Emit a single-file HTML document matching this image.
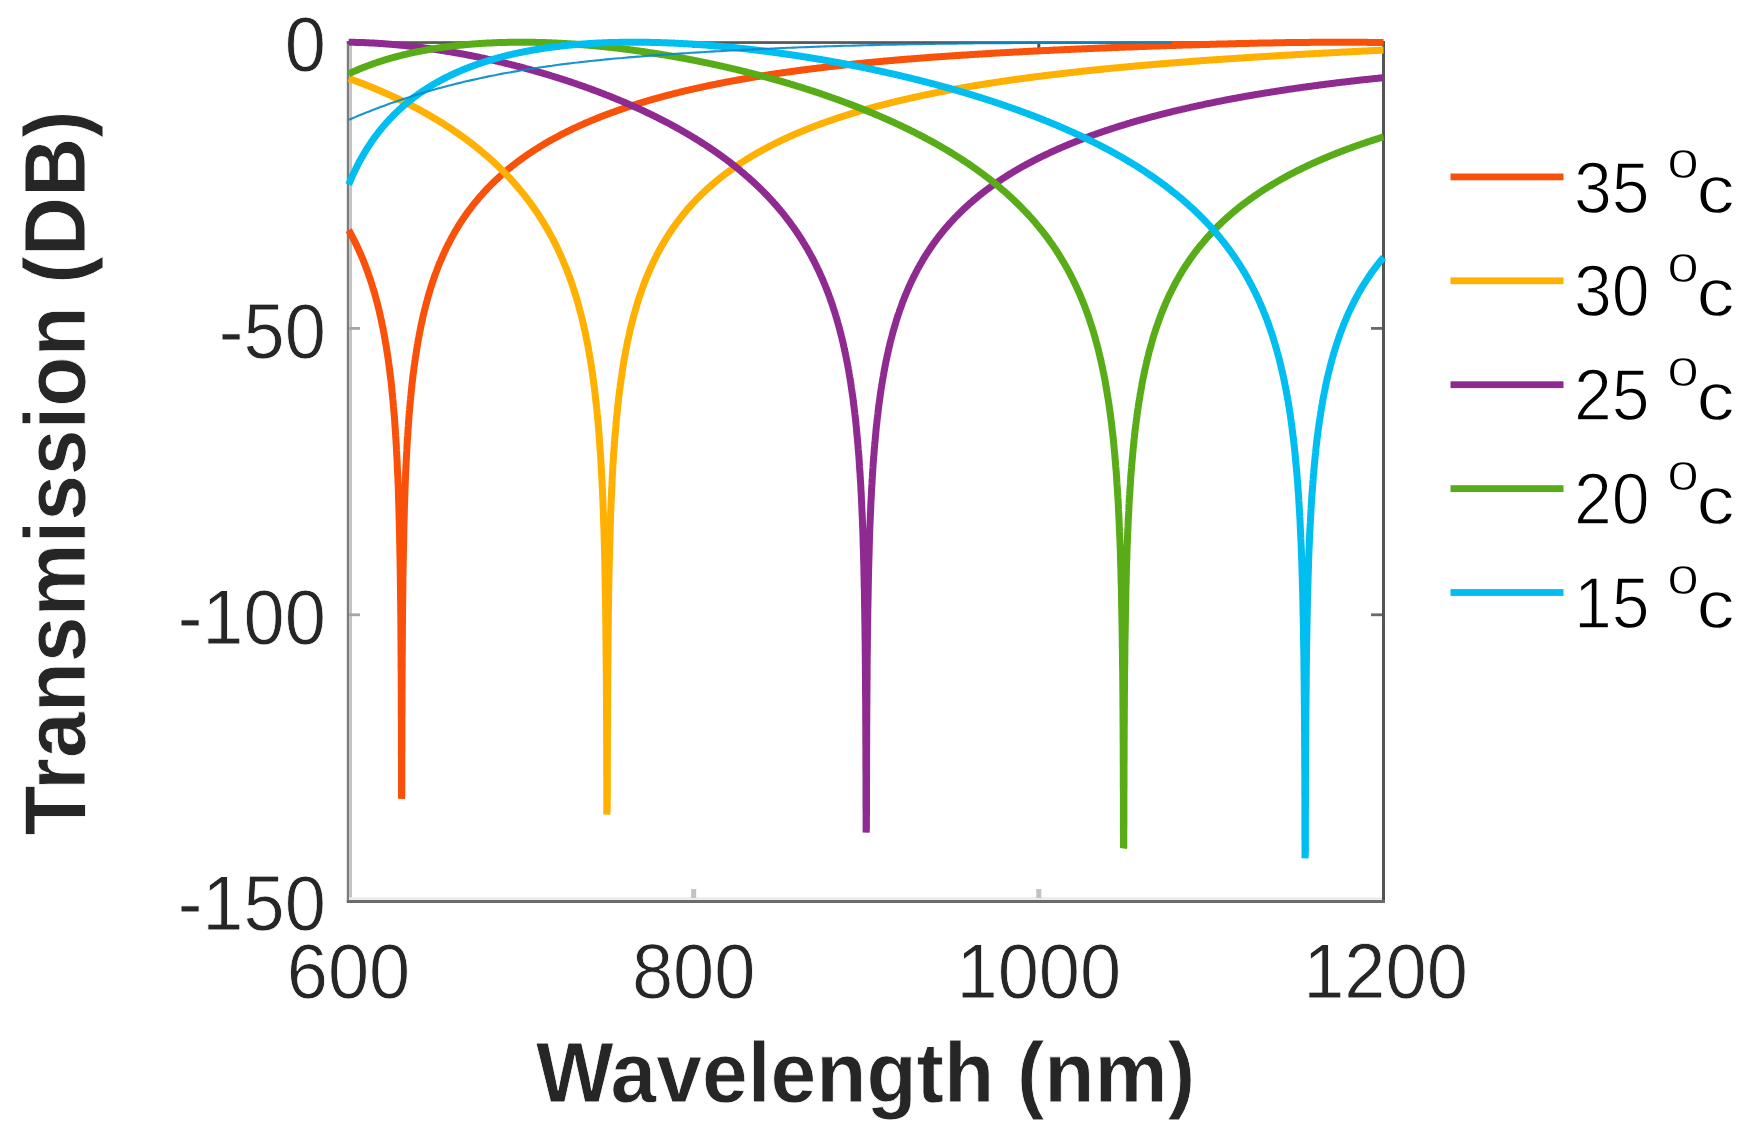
<!DOCTYPE html>
<html><head><meta charset="utf-8"><style>
html,body{margin:0;padding:0;background:#fff;overflow:hidden;}
svg{display:block;}
text{font-family:"Liberation Sans",Arial,Helvetica,sans-serif;fill:#262626;stroke:#fff;stroke-width:0.8px;}
.lg text{fill:#000;stroke-width:1.3px;}
</style></head><body>
<svg width="1748" height="1139" viewBox="0 0 1748 1139">
<rect width="1748" height="1139" fill="#fff"/>
<rect x="346.8" y="41.2" width="2.4" height="861" fill="#7c7c7c"/><rect x="349.2" y="43.5" width="2.8" height="855" fill="#c3c3c3"/><rect x="1382" y="41.2" width="3" height="861" fill="#555"/><rect x="349" y="897.3" width="1033" height="2.7" fill="#ececec"/><rect x="346.8" y="900" width="1038.2" height="3" fill="#6c6c6c"/><rect x="346.8" y="41.2" width="1038.2" height="2.7" fill="#555"/><rect x="349" y="327.0" width="11" height="2.8" fill="#a5a5a5"/><rect x="1371" y="327.0" width="11" height="2.8" fill="#6a6a6a"/><rect x="349" y="613.4" width="11" height="2.8" fill="#a5a5a5"/><rect x="1371" y="613.4" width="11" height="2.8" fill="#6a6a6a"/><rect x="691.2" y="889" width="5" height="9" fill="#c2c2c2"/><rect x="692.2" y="43" width="3" height="5" fill="#555"/><rect x="1036.3" y="889" width="5" height="9" fill="#c2c2c2"/><rect x="1037.3" y="43" width="3" height="5" fill="#555"/>
<path d="M348.7 230.1 L349.6 231.6 L350.4 233.2 L350.8 233.9 L351.3 234.8 L352.1 236.4 L353.0 238.1 L353.5 239.1 L353.9 239.7 L354.7 241.5 L355.6 243.2 L356.1 244.3 L356.5 245.0 L357.3 246.8 L358.2 248.7 L358.5 249.4 L359.0 250.6 L359.9 252.5 L360.8 254.5 L361.6 256.5 L362.5 258.5 L363.0 259.7 L363.4 260.6 L364.2 262.8 L365.1 264.9 L365.9 267.2 L366.8 269.5 L367.0 270.1 L367.7 271.9 L368.5 274.3 L368.8 275.2 L369.4 276.8 L370.3 279.4 L370.6 280.4 L371.1 282.0 L372.0 284.7 L372.2 285.6 L372.8 287.5 L373.7 290.4 L374.6 293.3 L375.3 295.9 L375.4 296.4 L376.3 299.6 L376.7 301.1 L377.2 302.8 L378.0 306.2 L378.9 309.7 L379.3 311.4 L379.7 313.4 L380.5 316.6 L380.6 317.2 L381.5 321.1 L381.6 321.7 L382.3 325.2 L382.7 326.9 L383.2 329.5 L383.7 332.1 L384.1 334.1 L384.6 337.2 L384.9 338.8 L385.5 342.4 L385.8 343.8 L386.4 347.5 L386.6 349.1 L387.2 352.7 L387.5 354.6 L388.0 357.9 L388.4 360.6 L388.7 363.0 L389.2 366.9 L389.4 368.2 L390.0 373.3 L390.7 378.5 L391.0 381.0 L391.3 383.7 L391.8 388.8 L392.3 394.0 L392.7 397.6 L392.8 399.1 L393.3 404.3 L393.5 407.1 L393.7 409.4 L394.2 414.6 L394.4 417.7 L394.6 419.8 L394.9 424.9 L395.3 429.7 L395.6 435.2 L396.0 440.4 L396.1 443.3 L396.3 445.5 L396.5 450.7 L396.8 455.8 L397.0 459.3 L397.1 461.0 L397.3 466.1 L397.5 471.3 L397.8 476.4 L397.9 478.6 L398.0 481.6 L398.2 486.7 L398.4 491.9 L398.5 497.0 L398.7 502.2 L398.7 502.9 L398.9 507.4 L399.0 512.5 L399.1 517.7 L399.3 522.8 L399.4 528.0 L399.5 533.1 L399.6 535.7 L399.6 538.3 L399.7 543.4 L399.8 548.6 L399.9 553.7 L400.0 558.8 L400.1 564.0 L400.2 569.1 L400.3 574.3 L400.3 579.4 L400.4 584.6 L400.4 586.4 L400.5 589.7 L400.5 594.9 L400.6 600.0 L400.7 605.2 L400.7 610.3 L400.8 615.5 L400.8 620.6 L400.9 625.8 L400.9 630.9 L400.9 636.1 L401.0 641.2 L401.0 646.4 L401.0 651.5 L401.1 656.7 L401.1 661.8 L401.1 667.0 L401.2 672.1 L401.2 677.3 L401.2 682.4 L401.2 687.6 L401.3 692.7 L401.3 697.9 L401.3 703.0 L401.3 704.3 L401.3 708.1 L401.3 713.3 L401.4 718.4 L401.4 723.6 L401.4 728.7 L401.4 733.9 L401.4 739.0 L401.4 744.2 L401.4 749.3 L401.4 754.5 L401.5 759.6 L401.5 764.8 L401.5 769.9 L401.5 775.1 L401.5 780.2 L401.5 785.4 L401.5 790.5 L401.5 795.7 L401.5 798.7 L401.8 795.7 L401.8 790.5 L401.8 785.4 L401.8 780.2 L401.8 775.1 L401.8 769.9 L401.8 764.8 L401.8 759.6 L401.8 754.5 L401.9 749.3 L401.9 744.2 L401.9 739.0 L401.9 733.9 L401.9 728.7 L401.9 723.6 L401.9 718.5 L402.0 713.3 L402.0 708.2 L402.0 703.0 L402.0 697.9 L402.0 692.7 L402.1 687.6 L402.1 682.4 L402.1 677.3 L402.1 672.1 L402.2 667.0 L402.2 666.1 L402.2 661.8 L402.2 656.7 L402.3 651.5 L402.3 646.4 L402.3 641.3 L402.4 636.1 L402.4 631.0 L402.4 625.8 L402.5 620.7 L402.5 615.5 L402.6 610.4 L402.6 605.2 L402.7 600.1 L402.8 594.9 L402.8 589.8 L402.9 584.6 L402.9 579.5 L403.0 574.4 L403.1 569.2 L403.2 564.1 L403.3 558.9 L403.4 553.8 L403.5 548.6 L403.6 543.5 L403.7 538.3 L403.8 533.2 L403.9 528.2 L404.0 522.9 L404.2 517.8 L404.3 512.6 L404.4 507.5 L404.6 502.3 L404.8 497.6 L404.9 492.0 L405.1 486.9 L405.3 481.8 L405.5 476.6 L405.6 474.6 L405.7 471.5 L406.0 466.3 L406.2 461.2 L406.5 456.1 L406.8 450.9 L407.0 445.8 L407.3 440.7 L407.7 435.5 L408.0 430.4 L408.2 427.4 L408.4 425.2 L408.7 420.1 L409.1 415.8 L409.1 414.9 L409.6 409.8 L409.9 405.5 L410.0 404.7 L410.5 399.5 L410.8 396.2 L411.0 394.4 L411.5 389.3 L411.7 387.7 L412.0 384.1 L412.5 380.0 L412.6 379.0 L413.2 373.9 L413.4 372.8 L413.9 368.7 L414.2 366.2 L414.6 363.6 L415.1 360.0 L415.3 358.5 L416.0 354.1 L416.1 353.4 L416.8 348.7 L417.7 343.5 L418.5 338.6 L418.7 338.0 L419.4 333.9 L419.6 332.9 L420.3 329.5 L420.6 327.8 L421.1 325.3 L421.7 322.6 L422.0 321.2 L422.8 317.5 L423.7 313.6 L424.0 312.4 L424.6 310.0 L425.3 307.3 L425.4 306.6 L426.3 303.3 L426.6 302.2 L427.2 300.1 L428.0 297.1 L428.9 294.0 L429.5 292.0 L429.8 291.1 L430.6 288.3 L431.0 286.9 L431.5 285.5 L432.3 282.9 L432.7 281.8 L433.2 280.3 L434.1 277.8 L434.4 276.7 L434.9 275.3 L435.8 273.0 L436.3 271.6 L436.7 270.7 L437.5 268.4 L438.2 266.6 L439.2 264.0 L440.1 261.9 L440.3 261.5 L441.0 259.9 L441.8 257.9 L442.5 256.4 L442.7 255.9 L443.6 254.0 L444.4 252.1 L444.8 251.3 L445.3 250.3 L446.1 248.4 L447.0 246.7 L447.9 244.9 L448.7 243.2 L449.6 241.6 L450.5 239.9 L451.3 238.3 L452.2 236.7 L452.5 236.2 L453.0 235.2 L453.9 233.6 L454.8 232.1 L455.3 231.2 L455.6 230.6 L456.5 229.2 L457.4 227.7 L458.2 226.3 L459.1 225.0 L459.9 223.6 L460.8 222.2 L461.5 221.1 L462.5 219.6 L463.4 218.3 L464.3 217.1 L464.9 216.1 L466.0 214.6 L466.8 213.4 L467.7 212.2 L468.4 211.1 L469.4 209.8 L470.3 208.7 L471.2 207.5 L472.0 206.4 L472.9 205.3 L473.7 204.2 L474.6 203.1 L475.5 202.1 L476.2 201.2 L477.2 200.0 L478.0 199.0 L478.9 197.9 L479.8 196.9 L480.4 196.3 L481.5 195.0 L482.4 194.0 L483.2 193.0 L484.1 192.1 L484.8 191.3 L485.8 190.2 L486.7 189.3 L487.5 188.4 L488.4 187.5 L489.3 186.6 L490.1 185.8 L491.0 184.9 L491.8 184.0 L492.7 183.2 L493.6 182.3 L494.4 181.5 L495.3 180.7 L496.2 179.9 L497.0 179.1 L497.9 178.3 L498.7 177.5 L499.6 176.7 L500.5 175.9 L501.3 175.1 L502.2 174.4 L503.1 173.6 L503.9 172.9 L504.8 172.1 L505.1 171.8 L505.6 171.4 L506.5 170.7 L507.4 169.9 L508.2 169.2 L509.1 168.5 L510.0 167.8 L510.8 167.1 L511.7 166.4 L512.5 165.7 L513.4 165.1 L514.3 164.4 L515.1 163.7 L516.0 163.1 L516.9 162.4 L517.7 161.7 L518.6 161.1 L519.4 160.5 L520.3 159.8 L521.2 159.2 L522.0 158.6 L522.9 158.0 L523.8 157.3 L524.6 156.7 L525.5 156.1 L526.3 155.5 L527.2 154.9 L528.1 154.3 L528.9 153.8 L529.8 153.2 L530.7 152.6 L531.5 152.0 L532.4 151.5 L533.2 150.9 L534.1 150.3 L535.0 149.8 L535.8 149.2 L536.7 148.7 L537.6 148.1 L538.4 147.6 L539.3 147.1 L540.1 146.5 L541.0 146.0 L541.9 145.5 L542.7 145.0 L543.6 144.4 L544.4 143.9 L545.3 143.4 L546.2 142.9 L547.0 142.4 L547.9 141.9 L548.8 141.4 L549.6 140.9 L550.5 140.4 L551.3 140.0 L552.2 139.5 L553.1 139.0 L553.9 138.5 L554.8 138.1 L555.7 137.6 L556.5 137.1 L557.4 136.7 L558.2 136.2 L559.1 135.7 L560.0 135.3 L560.8 134.8 L561.7 134.4 L562.6 133.9 L563.4 133.5 L564.3 133.1 L565.1 132.6 L566.0 132.2 L566.9 131.8 L567.7 131.3 L568.6 130.9 L569.5 130.5 L570.3 130.1 L571.2 129.7 L572.0 129.2 L572.9 128.8 L573.8 128.4 L574.6 128.0 L575.5 127.6 L576.4 127.2 L577.2 126.8 L578.1 126.4 L578.9 126.0 L579.8 125.6 L580.7 125.2 L581.5 124.9 L582.4 124.5 L583.3 124.1 L584.1 123.7 L585.0 123.3 L585.8 122.9 L586.7 122.6 L587.6 122.2 L588.4 121.8 L589.3 121.5 L590.2 121.1 L591.0 120.7 L591.9 120.4 L592.7 120.0 L593.6 119.7 L594.5 119.3 L595.3 119.0 L596.2 118.6 L597.1 118.3 L597.9 117.9 L598.8 117.6 L599.6 117.2 L600.5 116.9 L601.4 116.5 L602.2 116.2 L603.1 115.9 L604.0 115.5 L604.8 115.2 L605.7 114.9 L606.5 114.6 L607.4 114.2 L608.3 113.9 L609.1 113.6 L610.0 113.3 L610.8 112.9 L611.7 112.6 L612.6 112.3 L613.4 112.0 L614.3 111.7 L615.2 111.4 L616.0 111.1 L616.9 110.8 L617.7 110.5 L618.6 110.2 L619.5 109.9 L620.3 109.6 L621.2 109.3 L622.1 109.0 L622.9 108.7 L623.8 108.4 L624.6 108.1 L625.5 107.8 L626.4 107.5 L627.2 107.2 L628.1 106.9 L629.0 106.6 L629.8 106.4 L630.7 106.1 L631.5 105.8 L632.4 105.5 L633.3 105.2 L634.1 105.0 L635.0 104.7 L635.9 104.4 L636.7 104.1 L637.6 103.9 L638.4 103.6 L639.3 103.3 L640.2 103.1 L641.0 102.8 L641.9 102.5 L642.8 102.3 L643.6 102.0 L644.5 101.8 L645.3 101.5 L646.2 101.3 L647.1 101.0 L647.9 100.7 L648.8 100.5 L649.7 100.2 L650.5 100.0 L651.4 99.7 L652.2 99.5 L653.1 99.2 L654.0 99.0 L654.8 98.8 L655.7 98.5 L656.6 98.3 L657.4 98.0 L658.3 97.8 L659.1 97.6 L660.0 97.3 L660.9 97.1 L661.7 96.8 L662.6 96.6 L663.5 96.4 L664.3 96.1 L665.2 95.9 L666.0 95.7 L666.9 95.5 L667.8 95.2 L668.6 95.0 L669.5 94.8 L670.4 94.6 L671.2 94.3 L672.1 94.1 L672.9 93.9 L673.8 93.7 L674.7 93.5 L675.5 93.2 L676.4 93.0 L677.2 92.8 L678.1 92.6 L679.0 92.4 L679.8 92.2 L680.7 92.0 L681.6 91.8 L682.4 91.5 L683.3 91.3 L684.1 91.1 L685.0 90.9 L685.9 90.7 L686.7 90.5 L687.6 90.3 L688.5 90.1 L689.3 89.9 L690.2 89.7 L691.0 89.5 L691.9 89.3 L692.8 89.1 L693.6 88.9 L694.5 88.7 L695.4 88.5 L696.2 88.3 L697.1 88.1 L697.9 87.9 L698.8 87.8 L699.7 87.6 L700.5 87.4 L701.4 87.2 L702.3 87.0 L703.1 86.8 L704.0 86.6 L704.8 86.4 L705.7 86.3 L706.6 86.1 L707.4 85.9 L708.3 85.7 L709.2 85.5 L710.0 85.3 L710.9 85.2 L711.7 85.0 L712.6 84.8 L713.5 84.6 L714.3 84.5 L715.2 84.3 L716.1 84.1 L716.9 83.9 L717.8 83.8 L718.6 83.6 L719.5 83.4 L720.4 83.3 L721.2 83.1 L722.1 82.9 L723.0 82.7 L723.8 82.6 L724.7 82.4 L725.5 82.2 L726.4 82.1 L727.3 81.9 L728.1 81.8 L729.0 81.6 L729.9 81.4 L730.7 81.3 L731.6 81.1 L732.4 80.9 L733.3 80.8 L734.2 80.6 L735.0 80.5 L735.9 80.3 L736.8 80.2 L737.6 80.0 L738.5 79.8 L739.3 79.7 L740.2 79.5 L741.1 79.4 L741.9 79.2 L742.8 79.1 L743.6 78.9 L744.5 78.8 L745.4 78.6 L746.2 78.5 L747.1 78.3 L748.0 78.2 L748.8 78.0 L749.7 77.9 L750.5 77.7 L751.4 77.6 L752.3 77.4 L753.1 77.3 L754.0 77.2 L754.9 77.0 L755.7 76.9 L756.6 76.7 L757.4 76.6 L758.3 76.5 L759.2 76.3 L760.0 76.2 L760.9 76.0 L761.8 75.9 L762.6 75.8 L763.5 75.6 L764.3 75.5 L765.2 75.4 L766.1 75.2 L766.9 75.1 L767.8 74.9 L768.7 74.8 L769.5 74.7 L770.4 74.5 L771.2 74.4 L772.1 74.3 L773.0 74.2 L773.8 74.0 L774.7 73.9 L775.6 73.8 L776.4 73.6 L777.3 73.5 L778.1 73.4 L779.0 73.3 L779.9 73.1 L780.7 73.0 L781.6 72.9 L782.5 72.8 L783.3 72.6 L784.2 72.5 L785.0 72.4 L785.9 72.3 L786.8 72.1 L787.6 72.0 L788.5 71.9 L789.4 71.8 L790.2 71.7 L791.1 71.5 L791.9 71.4 L792.8 71.3 L793.7 71.2 L794.5 71.1 L795.4 71.0 L796.3 70.8 L797.1 70.7 L798.0 70.6 L798.8 70.5 L799.7 70.4 L800.6 70.3 L801.4 70.1 L802.3 70.0 L803.1 69.9 L804.0 69.8 L804.9 69.7 L805.7 69.6 L806.6 69.5 L807.5 69.4 L808.3 69.3 L809.2 69.1 L810.0 69.0 L810.9 68.9 L811.8 68.8 L812.6 68.7 L813.5 68.6 L814.4 68.5 L815.2 68.4 L816.1 68.3 L816.9 68.2 L817.8 68.1 L818.7 68.0 L819.5 67.9 L820.4 67.8 L821.3 67.7 L822.1 67.6 L823.0 67.5 L823.8 67.3 L824.7 67.2 L825.6 67.1 L826.4 67.0 L827.3 66.9 L828.2 66.8 L829.0 66.7 L829.9 66.6 L830.7 66.5 L831.6 66.4 L832.5 66.4 L833.3 66.3 L834.2 66.2 L835.1 66.1 L835.9 66.0 L836.8 65.9 L837.6 65.8 L838.5 65.7 L839.4 65.6 L840.2 65.5 L841.1 65.4 L842.0 65.3 L842.8 65.2 L843.7 65.1 L844.5 65.0 L845.4 64.9 L846.3 64.8 L847.1 64.7 L848.0 64.7 L848.9 64.6 L849.7 64.5 L850.6 64.4 L851.4 64.3 L852.3 64.2 L853.2 64.1 L854.0 64.0 L854.9 63.9 L855.8 63.8 L856.6 63.8 L857.5 63.7 L858.3 63.6 L859.2 63.5 L860.1 63.4 L860.9 63.3 L861.8 63.2 L862.7 63.2 L863.5 63.1 L864.4 63.0 L865.2 62.9 L866.1 62.8 L867.0 62.7 L867.8 62.6 L868.7 62.6 L869.5 62.5 L870.4 62.4 L871.3 62.3 L872.1 62.2 L873.0 62.2 L873.9 62.1 L874.7 62.0 L875.6 61.9 L876.4 61.8 L877.3 61.8 L878.2 61.7 L879.0 61.6 L879.9 61.5 L880.8 61.4 L881.6 61.4 L882.5 61.3 L883.3 61.2 L884.2 61.1 L885.1 61.0 L885.9 61.0 L886.8 60.9 L887.7 60.8 L888.5 60.7 L889.4 60.7 L890.2 60.6 L891.1 60.5 L892.0 60.4 L892.8 60.4 L893.7 60.3 L894.6 60.2 L895.4 60.1 L896.3 60.1 L897.1 60.0 L898.0 59.9 L898.9 59.8 L899.7 59.8 L900.6 59.7 L901.5 59.6 L902.3 59.6 L903.2 59.5 L904.0 59.4 L904.9 59.3 L905.8 59.3 L906.6 59.2 L907.5 59.1 L908.4 59.1 L909.2 59.0 L910.1 58.9 L910.9 58.9 L911.8 58.8 L912.7 58.7 L913.5 58.7 L914.4 58.6 L915.3 58.5 L916.1 58.5 L917.0 58.4 L917.8 58.3 L918.7 58.2 L919.6 58.2 L920.4 58.1 L921.3 58.1 L922.2 58.0 L923.0 57.9 L923.9 57.9 L924.7 57.8 L925.6 57.7 L926.5 57.7 L927.3 57.6 L928.2 57.5 L929.1 57.5 L929.9 57.4 L930.8 57.3 L931.6 57.3 L932.5 57.2 L933.4 57.1 L934.2 57.1 L935.1 57.0 L935.9 57.0 L936.8 56.9 L937.7 56.8 L938.5 56.8 L939.4 56.7 L940.3 56.7 L941.1 56.6 L942.0 56.5 L942.8 56.5 L943.7 56.4 L944.6 56.4 L945.4 56.3 L946.3 56.2 L947.2 56.2 L948.0 56.1 L948.9 56.1 L949.7 56.0 L950.6 55.9 L951.5 55.9 L952.3 55.8 L953.2 55.8 L954.1 55.7 L954.9 55.6 L955.8 55.6 L956.6 55.5 L957.5 55.5 L958.4 55.4 L959.2 55.4 L960.1 55.3 L961.0 55.2 L961.8 55.2 L962.7 55.1 L963.5 55.1 L964.4 55.0 L965.3 55.0 L966.1 54.9 L967.0 54.9 L967.9 54.8 L968.7 54.8 L969.6 54.7 L970.4 54.6 L971.3 54.6 L972.2 54.5 L973.0 54.5 L973.9 54.4 L974.8 54.4 L975.6 54.3 L976.5 54.3 L977.3 54.2 L978.2 54.2 L979.1 54.1 L979.9 54.1 L980.8 54.0 L981.7 54.0 L982.5 53.9 L983.4 53.8 L984.2 53.8 L985.1 53.7 L986.0 53.7 L986.8 53.6 L987.7 53.6 L988.6 53.5 L989.4 53.5 L990.3 53.4 L991.1 53.4 L992.0 53.3 L992.9 53.3 L993.7 53.2 L994.6 53.2 L995.5 53.1 L996.3 53.1 L997.2 53.0 L998.0 53.0 L998.9 52.9 L999.8 52.9 L1000.6 52.8 L1001.5 52.8 L1002.3 52.8 L1003.2 52.7 L1004.1 52.7 L1004.9 52.6 L1005.8 52.6 L1006.7 52.5 L1007.5 52.5 L1008.4 52.4 L1009.2 52.4 L1010.1 52.3 L1011.0 52.3 L1011.8 52.2 L1012.7 52.2 L1013.6 52.1 L1014.4 52.1 L1015.3 52.0 L1016.1 52.0 L1017.0 52.0 L1017.9 51.9 L1018.7 51.9 L1019.6 51.8 L1020.5 51.8 L1021.3 51.7 L1022.2 51.7 L1023.0 51.6 L1023.9 51.6 L1024.8 51.6 L1025.6 51.5 L1026.5 51.5 L1027.4 51.4 L1028.2 51.4 L1029.1 51.3 L1029.9 51.3 L1030.8 51.2 L1031.7 51.2 L1032.5 51.2 L1033.4 51.1 L1034.3 51.1 L1035.1 51.0 L1036.0 51.0 L1036.8 50.9 L1037.7 50.9 L1038.6 50.9 L1039.4 50.8 L1040.3 50.8 L1041.2 50.7 L1042.0 50.7 L1042.9 50.6 L1043.7 50.6 L1044.6 50.6 L1045.5 50.5 L1046.3 50.5 L1047.2 50.4 L1048.1 50.4 L1048.9 50.4 L1049.8 50.3 L1050.6 50.3 L1051.5 50.2 L1052.4 50.2 L1053.2 50.2 L1054.1 50.1 L1055.0 50.1 L1055.8 50.0 L1056.7 50.0 L1057.5 49.9 L1058.4 49.9 L1059.3 49.9 L1060.1 49.8 L1061.0 49.8 L1061.8 49.8 L1062.7 49.7 L1063.6 49.7 L1064.4 49.6 L1065.3 49.6 L1066.2 49.6 L1067.0 49.5 L1067.9 49.5 L1068.7 49.4 L1069.6 49.4 L1070.5 49.4 L1071.3 49.3 L1072.2 49.3 L1073.1 49.2 L1073.9 49.2 L1074.8 49.2 L1075.6 49.1 L1076.5 49.1 L1077.4 49.1 L1078.2 49.0 L1079.1 49.0 L1080.0 48.9 L1080.8 48.9 L1081.7 48.9 L1082.5 48.8 L1083.4 48.8 L1084.3 48.8 L1085.1 48.7 L1086.0 48.7 L1086.9 48.7 L1087.7 48.6 L1088.6 48.6 L1089.4 48.5 L1090.3 48.5 L1091.2 48.5 L1092.0 48.4 L1092.9 48.4 L1093.8 48.4 L1094.6 48.3 L1095.5 48.3 L1096.3 48.3 L1097.2 48.2 L1098.1 48.2 L1098.9 48.2 L1099.8 48.1 L1100.7 48.1 L1101.5 48.0 L1102.4 48.0 L1103.2 48.0 L1104.1 47.9 L1105.0 47.9 L1105.8 47.9 L1106.7 47.8 L1107.6 47.8 L1108.4 47.8 L1109.3 47.7 L1110.1 47.7 L1111.0 47.7 L1111.9 47.6 L1112.7 47.6 L1113.6 47.6 L1114.5 47.5 L1115.3 47.5 L1116.2 47.5 L1117.0 47.4 L1117.9 47.4 L1118.8 47.4 L1119.6 47.3 L1120.5 47.3 L1121.4 47.3 L1122.2 47.2 L1123.1 47.2 L1123.9 47.2 L1124.8 47.1 L1125.7 47.1 L1126.5 47.1 L1127.4 47.0 L1128.2 47.0 L1129.1 47.0 L1130.0 46.9 L1130.8 46.9 L1131.7 46.9 L1132.6 46.9 L1133.4 46.8 L1134.3 46.8 L1135.1 46.8 L1136.0 46.7 L1136.9 46.7 L1137.7 46.7 L1138.6 46.6 L1139.5 46.6 L1140.3 46.6 L1141.2 46.5 L1142.0 46.5 L1142.9 46.5 L1143.8 46.4 L1144.6 46.4 L1145.5 46.4 L1146.4 46.4 L1147.2 46.3 L1148.1 46.3 L1148.9 46.3 L1149.8 46.2 L1150.7 46.2 L1151.5 46.2 L1152.4 46.1 L1153.3 46.1 L1154.1 46.1 L1155.0 46.1 L1155.8 46.0 L1156.7 46.0 L1157.6 46.0 L1158.4 45.9 L1159.3 45.9 L1160.2 45.9 L1161.0 45.8 L1161.9 45.8 L1162.7 45.8 L1163.6 45.8 L1164.5 45.7 L1165.3 45.7 L1166.2 45.7 L1167.1 45.6 L1167.9 45.6 L1168.8 45.6 L1169.6 45.6 L1170.5 45.5 L1171.4 45.5 L1172.2 45.5 L1173.1 45.5 L1174.0 45.4 L1174.8 45.4 L1175.7 45.4 L1176.5 45.3 L1177.4 45.3 L1178.3 45.3 L1179.1 45.3 L1180.0 45.2 L1180.9 45.2 L1181.7 45.2 L1182.6 45.1 L1183.4 45.1 L1184.3 45.1 L1185.2 45.1 L1186.0 45.0 L1186.9 45.0 L1187.8 45.0 L1188.6 45.0 L1189.5 44.9 L1190.3 44.9 L1191.2 44.9 L1192.1 44.9 L1192.9 44.8 L1193.8 44.8 L1194.6 44.8 L1195.5 44.8 L1196.4 44.7 L1197.2 44.7 L1198.1 44.7 L1199.0 44.7 L1199.8 44.6 L1200.7 44.6 L1201.5 44.6 L1202.4 44.6 L1203.3 44.5 L1204.1 44.5 L1205.0 44.5 L1205.9 44.5 L1206.7 44.4 L1207.6 44.4 L1208.4 44.4 L1209.3 44.4 L1210.2 44.3 L1211.0 44.3 L1211.9 44.3 L1212.8 44.3 L1213.6 44.2 L1214.5 44.2 L1215.3 44.2 L1216.2 44.2 L1217.1 44.1 L1217.9 44.1 L1218.8 44.1 L1219.7 44.1 L1220.5 44.0 L1221.4 44.0 L1222.2 44.0 L1223.1 44.0 L1224.0 44.0 L1224.8 43.9 L1225.7 43.9 L1226.6 43.9 L1227.4 43.9 L1228.3 43.8 L1229.1 43.8 L1230.0 43.8 L1230.9 43.8 L1231.7 43.8 L1232.6 43.7 L1233.5 43.7 L1234.3 43.7 L1235.2 43.7 L1236.0 43.7 L1236.9 43.6 L1237.8 43.6 L1238.6 43.6 L1239.5 43.6 L1240.4 43.6 L1241.2 43.5 L1242.1 43.5 L1242.9 43.5 L1243.8 43.5 L1244.7 43.4 L1245.5 43.4 L1246.4 43.4 L1247.3 43.4 L1248.1 43.4 L1249.0 43.4 L1249.8 43.3 L1250.7 43.3 L1251.6 43.3 L1252.4 43.3 L1253.3 43.3 L1254.2 43.2 L1255.0 43.2 L1255.9 43.2 L1256.7 43.2 L1257.6 43.2 L1258.5 43.1 L1259.3 43.1 L1260.2 43.1 L1261.0 43.1 L1261.9 43.1 L1262.8 43.1 L1263.6 43.0 L1264.5 43.0 L1265.4 43.0 L1266.2 43.0 L1267.1 43.0 L1267.9 43.0 L1268.8 42.9 L1269.7 42.9 L1270.5 42.9 L1271.4 42.9 L1272.3 42.9 L1273.1 42.9 L1274.0 42.8 L1274.8 42.8 L1275.7 42.8 L1276.6 42.8 L1277.4 42.8 L1278.3 42.8 L1279.2 42.8 L1280.0 42.7 L1280.9 42.7 L1281.7 42.7 L1282.6 42.7 L1283.5 42.7 L1284.3 42.7 L1285.2 42.7 L1286.1 42.6 L1286.9 42.6 L1287.8 42.6 L1288.6 42.6 L1289.5 42.6 L1290.4 42.6 L1291.2 42.6 L1292.1 42.6 L1293.0 42.5 L1293.8 42.5 L1294.7 42.5 L1295.5 42.5 L1296.4 42.5 L1297.3 42.5 L1298.1 42.5 L1299.0 42.5 L1299.9 42.5 L1300.7 42.4 L1301.6 42.4 L1302.4 42.4 L1303.3 42.4 L1304.2 42.4 L1305.0 42.4 L1305.9 42.4 L1306.8 42.4 L1307.6 42.4 L1308.5 42.4 L1309.3 42.4 L1310.2 42.3 L1311.1 42.3 L1311.9 42.3 L1312.8 42.3 L1313.7 42.3 L1314.5 42.3 L1315.4 42.3 L1316.2 42.3 L1317.1 42.3 L1318.0 42.3 L1318.8 42.3 L1319.7 42.3 L1320.5 42.3 L1321.4 42.3 L1322.3 42.3 L1323.1 42.2 L1324.0 42.2 L1324.9 42.2 L1325.7 42.2 L1326.6 42.2 L1327.4 42.2 L1328.3 42.2 L1329.2 42.2 L1330.0 42.2 L1330.9 42.2 L1331.8 42.2 L1332.6 42.2 L1333.5 42.2 L1334.3 42.2 L1335.2 42.2 L1336.1 42.2 L1336.9 42.2 L1337.8 42.2 L1338.7 42.2 L1339.5 42.2 L1340.4 42.2 L1341.2 42.2 L1342.1 42.2 L1343.0 42.2 L1343.8 42.2 L1344.7 42.2 L1345.6 42.2 L1346.4 42.2 L1347.3 42.2 L1348.1 42.2 L1349.0 42.2 L1349.9 42.2 L1350.7 42.2 L1351.6 42.2 L1352.5 42.2 L1353.3 42.2 L1354.2 42.2 L1355.0 42.2 L1355.9 42.3 L1356.8 42.3 L1357.6 42.3 L1358.5 42.3 L1359.4 42.3 L1360.2 42.3 L1361.1 42.3 L1361.9 42.3 L1362.8 42.3 L1363.7 42.3 L1364.5 42.3 L1365.4 42.3 L1366.3 42.3 L1367.1 42.3 L1368.0 42.4 L1368.8 42.4 L1369.7 42.4 L1370.6 42.4 L1371.4 42.4 L1372.3 42.4 L1373.2 42.4 L1374.0 42.4 L1374.9 42.5 L1375.7 42.5 L1376.6 42.5 L1377.5 42.5 L1378.3 42.5 L1379.2 42.5 L1380.1 42.5 L1380.9 42.6 L1381.8 42.6 L1382.6 42.6 L1383.5 42.6" stroke="#F9500A" stroke-width="7" fill="none" stroke-linejoin="bevel"/><path d="M348.7 78.4 L349.6 78.7 L350.4 79.1 L351.3 79.4 L352.1 79.7 L353.0 80.0 L353.9 80.3 L354.7 80.6 L355.6 81.0 L356.5 81.3 L357.3 81.6 L358.2 81.9 L359.0 82.3 L359.9 82.6 L360.8 82.9 L361.6 83.2 L362.5 83.6 L363.4 83.9 L364.2 84.2 L365.1 84.6 L365.9 84.9 L366.8 85.3 L367.7 85.6 L368.5 86.0 L369.4 86.3 L370.3 86.7 L371.1 87.0 L372.0 87.4 L372.8 87.7 L373.7 88.1 L374.6 88.4 L375.4 88.8 L376.3 89.2 L377.2 89.5 L378.0 89.9 L378.9 90.2 L379.7 90.6 L380.6 91.0 L381.5 91.4 L382.3 91.7 L383.2 92.1 L384.1 92.5 L384.9 92.9 L385.8 93.2 L386.6 93.6 L387.5 94.0 L388.4 94.4 L389.2 94.8 L390.1 95.2 L391.0 95.6 L391.8 96.0 L392.7 96.4 L393.5 96.8 L394.4 97.2 L395.3 97.6 L396.1 98.0 L397.0 98.4 L397.9 98.8 L398.7 99.2 L399.6 99.6 L400.4 100.0 L401.3 100.5 L402.2 100.9 L403.0 101.3 L403.9 101.7 L404.8 102.2 L405.6 102.6 L406.5 103.0 L407.3 103.5 L408.2 103.9 L409.1 104.3 L409.9 104.8 L410.8 105.2 L411.7 105.7 L412.5 106.1 L413.4 106.6 L414.2 107.0 L415.1 107.5 L416.0 107.9 L416.8 108.4 L417.7 108.8 L418.5 109.3 L419.4 109.8 L420.3 110.2 L421.1 110.7 L422.0 111.2 L422.9 111.7 L423.7 112.1 L424.6 112.6 L425.4 113.1 L426.3 113.6 L427.2 114.1 L428.0 114.6 L428.9 115.1 L429.8 115.6 L430.6 116.1 L431.5 116.6 L432.3 117.1 L433.2 117.6 L434.1 118.1 L434.9 118.6 L435.8 119.1 L436.7 119.6 L437.5 120.2 L438.4 120.7 L439.2 121.2 L440.1 121.8 L441.0 122.3 L441.8 122.8 L442.7 123.4 L443.6 123.9 L444.4 124.5 L445.3 125.0 L446.1 125.6 L447.0 126.1 L447.9 126.7 L448.7 127.2 L449.6 127.8 L450.5 128.4 L451.3 128.9 L452.2 129.5 L453.0 130.1 L453.9 130.7 L454.8 131.3 L455.6 131.9 L456.5 132.5 L457.4 133.1 L458.2 133.7 L459.1 134.3 L459.9 134.9 L460.8 135.5 L461.7 136.1 L462.5 136.7 L463.4 137.3 L464.3 138.0 L465.1 138.6 L466.0 139.2 L466.8 139.9 L467.7 140.5 L468.6 141.2 L469.4 141.8 L470.3 142.5 L471.2 143.1 L472.0 143.8 L472.9 144.5 L473.7 145.2 L474.6 145.8 L475.5 146.5 L476.3 147.2 L477.2 147.9 L478.0 148.6 L478.9 149.3 L479.8 150.0 L480.6 150.7 L481.5 151.4 L482.4 152.1 L483.2 152.9 L484.1 153.6 L484.9 154.3 L485.8 155.1 L486.7 155.8 L487.5 156.6 L488.4 157.3 L489.3 158.1 L490.1 158.9 L491.0 159.7 L491.8 160.4 L492.7 161.2 L493.6 162.0 L494.4 162.8 L495.3 163.6 L496.2 164.4 L497.0 165.3 L497.9 166.1 L498.7 166.9 L499.6 167.7 L500.5 168.6 L501.3 169.4 L502.2 170.3 L503.1 171.2 L503.5 171.7 L503.9 172.0 L504.8 172.9 L505.6 173.8 L506.5 174.7 L507.4 175.6 L508.2 176.5 L509.1 177.4 L510.0 178.4 L510.8 179.3 L511.7 180.2 L512.5 181.2 L513.4 182.2 L514.3 183.1 L515.1 184.1 L516.0 185.1 L516.9 186.1 L517.7 187.1 L518.6 188.1 L519.2 188.9 L520.3 190.2 L521.2 191.2 L522.0 192.3 L522.9 193.3 L523.8 194.4 L524.6 195.5 L525.5 196.6 L526.3 197.7 L527.2 198.8 L528.1 200.0 L528.9 201.1 L529.8 202.3 L530.7 203.4 L531.5 204.6 L532.4 205.8 L533.2 207.0 L534.1 208.3 L535.0 209.5 L535.8 210.8 L536.5 211.7 L537.6 213.3 L538.4 214.6 L539.3 215.9 L540.1 217.3 L541.0 218.6 L541.9 220.0 L542.7 221.4 L543.6 222.8 L544.4 224.2 L545.3 225.6 L546.2 227.1 L547.0 228.6 L547.9 230.1 L548.8 231.6 L549.6 233.2 L550.3 234.5 L551.3 236.3 L552.2 237.9 L553.1 239.6 L553.4 240.1 L553.9 241.3 L554.8 243.0 L555.7 244.7 L556.2 245.8 L556.5 246.4 L557.4 248.2 L558.2 250.0 L558.9 251.5 L560.0 253.7 L560.8 255.7 L561.5 257.1 L561.7 257.6 L562.6 259.6 L563.4 261.6 L563.9 262.8 L564.3 263.7 L565.1 265.8 L566.0 267.9 L566.2 268.4 L566.9 270.1 L567.7 272.3 L568.4 274.0 L568.6 274.6 L569.5 277.0 L570.3 279.3 L571.2 281.8 L572.0 284.3 L572.4 285.3 L572.9 286.9 L573.8 289.5 L574.2 290.9 L574.6 292.2 L575.5 294.9 L576.0 296.5 L576.4 297.8 L577.2 300.7 L577.6 302.1 L578.1 303.7 L578.9 306.8 L579.2 307.7 L579.8 310.0 L580.7 313.3 L581.5 316.7 L582.1 318.9 L582.4 320.2 L583.3 323.9 L583.4 324.5 L584.1 327.6 L584.7 330.1 L585.0 331.5 L585.8 335.6 L586.7 339.8 L587.0 341.3 L587.6 344.3 L588.1 346.8 L588.4 348.9 L589.1 352.4 L589.3 353.7 L590.0 358.0 L590.2 358.8 L590.9 363.5 L591.0 364.1 L591.8 369.1 L591.9 369.7 L592.6 374.6 L592.7 375.7 L593.4 380.2 L593.6 382.0 L594.1 385.8 L594.5 388.7 L594.8 391.3 L595.3 395.9 L595.4 396.9 L596.0 402.4 L596.2 403.7 L596.6 407.9 L597.1 412.1 L597.2 413.5 L597.7 419.0 L597.9 421.2 L598.2 424.6 L598.7 430.1 L598.8 431.3 L599.1 435.6 L599.5 441.1 L599.6 442.5 L599.9 446.7 L600.3 452.2 L600.5 455.0 L600.7 457.7 L601.0 463.3 L601.3 468.8 L601.6 474.3 L601.9 479.8 L602.2 485.4 L602.2 486.0 L602.5 490.9 L602.7 496.4 L602.9 501.9 L603.1 505.9 L603.1 507.4 L603.4 512.9 L603.5 518.5 L603.7 524.0 L603.9 529.5 L604.0 530.8 L604.1 535.0 L604.2 540.5 L604.4 546.0 L604.5 551.5 L604.7 557.0 L604.8 562.6 L604.8 563.9 L604.9 568.1 L605.0 573.6 L605.1 579.1 L605.2 584.6 L605.3 590.1 L605.4 595.6 L605.5 601.1 L605.6 606.6 L605.7 612.1 L605.7 613.6 L605.7 617.6 L605.8 623.2 L605.9 628.7 L605.9 634.2 L606.0 639.7 L606.0 645.2 L606.1 650.7 L606.1 656.2 L606.2 661.7 L606.2 667.2 L606.3 672.7 L606.3 678.2 L606.4 683.7 L606.4 689.2 L606.4 694.7 L606.5 700.2 L606.5 705.7 L606.5 711.2 L606.5 715.5 L606.5 716.7 L606.6 722.2 L606.6 727.7 L606.6 733.2 L606.6 738.8 L606.7 744.3 L606.7 749.8 L606.7 755.3 L606.7 760.8 L606.7 766.3 L606.7 771.8 L606.8 777.3 L606.8 782.8 L606.8 788.3 L606.8 793.8 L606.8 799.3 L606.8 804.8 L606.8 810.3 L606.8 814.5 L607.2 810.3 L607.2 804.8 L607.2 799.3 L607.3 793.8 L607.3 788.3 L607.3 782.8 L607.3 777.3 L607.3 771.8 L607.3 766.3 L607.3 760.8 L607.4 755.3 L607.4 749.8 L607.4 744.3 L607.4 738.8 L607.4 733.3 L607.5 727.8 L607.5 722.3 L607.5 716.8 L607.5 711.3 L607.6 705.8 L607.6 700.3 L607.6 694.8 L607.7 689.3 L607.7 683.8 L607.7 678.3 L607.8 672.8 L607.8 667.3 L607.9 661.8 L607.9 656.3 L608.0 650.8 L608.0 645.3 L608.1 639.8 L608.1 634.3 L608.2 628.8 L608.3 623.3 L608.3 617.8 L608.4 612.3 L608.5 606.8 L608.6 601.3 L608.6 595.8 L608.7 590.4 L608.8 584.9 L608.9 579.4 L609.0 573.9 L609.1 569.9 L609.2 568.4 L609.3 562.9 L609.4 557.4 L609.5 551.9 L609.7 546.4 L609.8 540.9 L610.0 535.4 L610.1 529.9 L610.3 524.4 L610.5 519.0 L610.7 513.5 L610.8 509.6 L610.9 508.0 L611.1 502.5 L611.4 497.0 L611.6 491.5 L611.7 489.2 L611.9 486.0 L612.1 480.6 L612.4 475.1 L612.6 472.3 L612.7 469.6 L613.0 464.1 L613.4 458.6 L613.4 457.8 L613.7 453.2 L614.1 447.7 L614.3 445.2 L614.5 442.2 L614.9 436.7 L615.2 434.0 L615.4 431.3 L615.9 425.8 L616.0 423.9 L616.3 420.3 L616.9 414.9 L617.4 409.4 L617.7 406.4 L618.0 404.0 L618.6 398.6 L619.3 393.1 L619.5 391.5 L620.0 387.6 L620.3 384.8 L620.7 382.2 L621.2 378.6 L621.5 376.7 L622.1 372.7 L622.3 371.3 L622.9 367.1 L623.1 365.8 L623.8 361.9 L624.0 360.4 L624.6 356.9 L625.0 355.0 L625.5 352.2 L626.0 349.5 L626.4 347.7 L627.1 344.1 L627.2 343.3 L628.1 339.2 L629.0 335.2 L629.4 333.3 L629.8 331.4 L630.6 327.9 L631.5 324.2 L632.0 322.5 L632.4 320.8 L633.3 317.5 L634.1 314.3 L634.9 311.7 L635.9 308.3 L636.4 306.3 L636.7 305.4 L637.6 302.5 L638.1 301.0 L638.4 299.8 L639.3 297.2 L639.8 295.6 L640.2 294.6 L641.0 292.1 L641.7 290.2 L641.9 289.6 L642.8 287.2 L643.6 284.9 L644.5 282.6 L645.3 280.4 L645.7 279.6 L646.2 278.2 L647.1 276.1 L647.9 274.2 L648.8 272.0 L649.7 270.0 L650.1 268.9 L650.5 268.1 L651.4 266.2 L652.2 264.3 L652.6 263.6 L653.1 262.5 L654.0 260.7 L654.8 258.9 L655.1 258.3 L655.7 257.2 L656.6 255.5 L657.4 253.8 L657.8 253.0 L658.3 252.2 L659.1 250.6 L660.0 249.0 L660.7 247.8 L661.7 245.9 L662.6 244.4 L663.5 243.0 L663.7 242.5 L664.3 241.5 L665.2 240.1 L666.0 238.7 L666.9 237.3 L667.8 235.9 L668.6 234.6 L669.5 233.2 L670.3 232.1 L671.2 230.7 L672.1 229.4 L672.9 228.1 L673.8 226.9 L674.7 225.7 L675.5 224.5 L676.4 223.3 L677.2 222.1 L677.6 221.7 L678.1 221.0 L679.0 219.8 L679.8 218.7 L680.7 217.6 L681.6 216.5 L682.4 215.4 L683.3 214.4 L684.1 213.3 L685.0 212.3 L685.7 211.4 L686.7 210.2 L687.6 209.2 L688.5 208.2 L689.3 207.2 L690.2 206.3 L691.0 205.3 L691.9 204.3 L692.8 203.4 L693.6 202.5 L694.5 201.5 L694.8 201.2 L695.4 200.6 L696.2 199.7 L697.1 198.8 L697.9 198.0 L698.8 197.1 L699.7 196.2 L700.5 195.4 L701.4 194.5 L702.3 193.7 L703.1 192.9 L704.0 192.0 L704.8 191.2 L705.7 190.4 L706.6 189.6 L707.4 188.8 L708.3 188.1 L709.2 187.3 L710.0 186.5 L710.5 186.1 L710.9 185.8 L711.7 185.0 L712.6 184.3 L713.5 183.5 L714.3 182.8 L715.2 182.1 L716.1 181.3 L716.9 180.6 L717.8 179.9 L718.6 179.2 L719.5 178.5 L720.4 177.8 L721.2 177.2 L722.1 176.5 L723.0 175.8 L723.8 175.1 L724.7 174.5 L725.5 173.8 L726.4 173.2 L727.3 172.5 L728.1 171.9 L729.0 171.3 L729.9 170.6 L730.7 170.0 L731.6 169.4 L732.4 168.8 L733.3 168.2 L734.2 167.6 L735.0 167.0 L735.9 166.4 L736.8 165.8 L737.6 165.2 L738.5 164.6 L739.3 164.1 L740.2 163.5 L741.1 162.9 L741.9 162.4 L742.8 161.8 L743.6 161.2 L744.5 160.7 L745.4 160.2 L746.2 159.6 L747.1 159.1 L748.0 158.5 L748.8 158.0 L749.7 157.5 L750.5 157.0 L751.4 156.4 L752.3 155.9 L753.1 155.4 L754.0 154.9 L754.9 154.4 L755.7 153.9 L756.6 153.4 L757.4 152.9 L758.3 152.4 L759.2 151.9 L760.0 151.4 L760.9 151.0 L761.8 150.5 L762.6 150.0 L763.5 149.5 L764.3 149.1 L765.2 148.6 L766.1 148.1 L766.9 147.7 L767.8 147.2 L768.7 146.8 L769.5 146.3 L770.4 145.9 L771.2 145.4 L772.1 145.0 L773.0 144.6 L773.8 144.1 L774.7 143.7 L775.6 143.3 L776.4 142.8 L777.3 142.4 L778.1 142.0 L779.0 141.6 L779.9 141.1 L780.7 140.7 L781.6 140.3 L782.5 139.9 L783.3 139.5 L784.2 139.1 L785.0 138.7 L785.9 138.3 L786.8 137.9 L787.6 137.5 L788.5 137.1 L789.4 136.7 L790.2 136.3 L791.1 135.9 L791.9 135.6 L792.8 135.2 L793.7 134.8 L794.5 134.4 L795.4 134.0 L796.3 133.7 L797.1 133.3 L798.0 132.9 L798.8 132.6 L799.7 132.2 L800.6 131.8 L801.4 131.5 L802.3 131.1 L803.1 130.8 L804.0 130.4 L804.9 130.1 L805.7 129.7 L806.6 129.4 L807.5 129.0 L808.3 128.7 L809.2 128.3 L810.0 128.0 L810.9 127.7 L811.8 127.3 L812.6 127.0 L813.5 126.7 L814.4 126.3 L815.2 126.0 L816.1 125.7 L816.9 125.3 L817.8 125.0 L818.7 124.7 L819.5 124.4 L820.4 124.1 L821.3 123.7 L822.1 123.4 L823.0 123.1 L823.8 122.8 L824.7 122.5 L825.6 122.2 L826.4 121.9 L827.3 121.6 L828.2 121.3 L829.0 121.0 L829.9 120.7 L830.7 120.4 L831.6 120.1 L832.5 119.8 L833.3 119.5 L834.2 119.2 L835.1 118.9 L835.9 118.6 L836.8 118.3 L837.6 118.0 L838.5 117.7 L839.4 117.5 L840.2 117.2 L841.1 116.9 L842.0 116.6 L842.8 116.3 L843.7 116.1 L844.5 115.8 L845.4 115.5 L846.3 115.2 L847.1 115.0 L848.0 114.7 L848.9 114.4 L849.7 114.2 L850.6 113.9 L851.4 113.6 L852.3 113.4 L853.2 113.1 L854.0 112.8 L854.9 112.6 L855.8 112.3 L856.6 112.1 L857.5 111.8 L858.3 111.6 L859.2 111.3 L860.1 111.0 L860.9 110.8 L861.8 110.5 L862.7 110.3 L863.5 110.0 L864.4 109.8 L865.2 109.6 L866.1 109.3 L867.0 109.1 L867.8 108.8 L868.7 108.6 L869.5 108.3 L870.4 108.1 L871.3 107.9 L872.1 107.6 L873.0 107.4 L873.9 107.2 L874.7 106.9 L875.6 106.7 L876.4 106.5 L877.3 106.2 L878.2 106.0 L879.0 105.8 L879.9 105.6 L880.8 105.3 L881.6 105.1 L882.5 104.9 L883.3 104.7 L884.2 104.4 L885.1 104.2 L885.9 104.0 L886.8 103.8 L887.7 103.6 L888.5 103.3 L889.4 103.1 L890.2 102.9 L891.1 102.7 L892.0 102.5 L892.8 102.3 L893.7 102.1 L894.6 101.8 L895.4 101.6 L896.3 101.4 L897.1 101.2 L898.0 101.0 L898.9 100.8 L899.7 100.6 L900.6 100.4 L901.5 100.2 L902.3 100.0 L903.2 99.8 L904.0 99.6 L904.9 99.4 L905.8 99.2 L906.6 99.0 L907.5 98.8 L908.4 98.6 L909.2 98.4 L910.1 98.2 L910.9 98.0 L911.8 97.8 L912.7 97.6 L913.5 97.4 L914.4 97.3 L915.3 97.1 L916.1 96.9 L917.0 96.7 L917.8 96.5 L918.7 96.3 L919.6 96.1 L920.4 95.9 L921.3 95.8 L922.2 95.6 L923.0 95.4 L923.9 95.2 L924.7 95.0 L925.6 94.9 L926.5 94.7 L927.3 94.5 L928.2 94.3 L929.1 94.1 L929.9 94.0 L930.8 93.8 L931.6 93.6 L932.5 93.4 L933.4 93.3 L934.2 93.1 L935.1 92.9 L935.9 92.7 L936.8 92.6 L937.7 92.4 L938.5 92.2 L939.4 92.1 L940.3 91.9 L941.1 91.7 L942.0 91.6 L942.8 91.4 L943.7 91.2 L944.6 91.1 L945.4 90.9 L946.3 90.7 L947.2 90.6 L948.0 90.4 L948.9 90.3 L949.7 90.1 L950.6 89.9 L951.5 89.8 L952.3 89.6 L953.2 89.5 L954.1 89.3 L954.9 89.1 L955.8 89.0 L956.6 88.8 L957.5 88.7 L958.4 88.5 L959.2 88.4 L960.1 88.2 L961.0 88.1 L961.8 87.9 L962.7 87.8 L963.5 87.6 L964.4 87.5 L965.3 87.3 L966.1 87.2 L967.0 87.0 L967.9 86.9 L968.7 86.7 L969.6 86.6 L970.4 86.4 L971.3 86.3 L972.2 86.1 L973.0 86.0 L973.9 85.8 L974.8 85.7 L975.6 85.5 L976.5 85.4 L977.3 85.3 L978.2 85.1 L979.1 85.0 L979.9 84.8 L980.8 84.7 L981.7 84.6 L982.5 84.4 L983.4 84.3 L984.2 84.1 L985.1 84.0 L986.0 83.9 L986.8 83.7 L987.7 83.6 L988.6 83.5 L989.4 83.3 L990.3 83.2 L991.1 83.1 L992.0 82.9 L992.9 82.8 L993.7 82.7 L994.6 82.5 L995.5 82.4 L996.3 82.3 L997.2 82.1 L998.0 82.0 L998.9 81.9 L999.8 81.7 L1000.6 81.6 L1001.5 81.5 L1002.3 81.4 L1003.2 81.2 L1004.1 81.1 L1004.9 81.0 L1005.8 80.9 L1006.7 80.7 L1007.5 80.6 L1008.4 80.5 L1009.2 80.4 L1010.1 80.2 L1011.0 80.1 L1011.8 80.0 L1012.7 79.9 L1013.6 79.7 L1014.4 79.6 L1015.3 79.5 L1016.1 79.4 L1017.0 79.3 L1017.9 79.1 L1018.7 79.0 L1019.6 78.9 L1020.5 78.8 L1021.3 78.7 L1022.2 78.5 L1023.0 78.4 L1023.9 78.3 L1024.8 78.2 L1025.6 78.1 L1026.5 78.0 L1027.4 77.9 L1028.2 77.7 L1029.1 77.6 L1029.9 77.5 L1030.8 77.4 L1031.7 77.3 L1032.5 77.2 L1033.4 77.1 L1034.3 76.9 L1035.1 76.8 L1036.0 76.7 L1036.8 76.6 L1037.7 76.5 L1038.6 76.4 L1039.4 76.3 L1040.3 76.2 L1041.2 76.1 L1042.0 76.0 L1042.9 75.8 L1043.7 75.7 L1044.6 75.6 L1045.5 75.5 L1046.3 75.4 L1047.2 75.3 L1048.1 75.2 L1048.9 75.1 L1049.8 75.0 L1050.6 74.9 L1051.5 74.8 L1052.4 74.7 L1053.2 74.6 L1054.1 74.5 L1055.0 74.4 L1055.8 74.3 L1056.7 74.2 L1057.5 74.1 L1058.4 74.0 L1059.3 73.9 L1060.1 73.8 L1061.0 73.7 L1061.8 73.6 L1062.7 73.5 L1063.6 73.4 L1064.4 73.3 L1065.3 73.2 L1066.2 73.1 L1067.0 73.0 L1067.9 72.9 L1068.7 72.8 L1069.6 72.7 L1070.5 72.6 L1071.3 72.5 L1072.2 72.4 L1073.1 72.3 L1073.9 72.2 L1074.8 72.1 L1075.6 72.0 L1076.5 71.9 L1077.4 71.8 L1078.2 71.7 L1079.1 71.6 L1080.0 71.5 L1080.8 71.4 L1081.7 71.3 L1082.5 71.2 L1083.4 71.1 L1084.3 71.1 L1085.1 71.0 L1086.0 70.9 L1086.9 70.8 L1087.7 70.7 L1088.6 70.6 L1089.4 70.5 L1090.3 70.4 L1091.2 70.3 L1092.0 70.2 L1092.9 70.1 L1093.8 70.1 L1094.6 70.0 L1095.5 69.9 L1096.3 69.8 L1097.2 69.7 L1098.1 69.6 L1098.9 69.5 L1099.8 69.4 L1100.7 69.3 L1101.5 69.3 L1102.4 69.2 L1103.2 69.1 L1104.1 69.0 L1105.0 68.9 L1105.8 68.8 L1106.7 68.7 L1107.6 68.7 L1108.4 68.6 L1109.3 68.5 L1110.1 68.4 L1111.0 68.3 L1111.9 68.2 L1112.7 68.2 L1113.6 68.1 L1114.5 68.0 L1115.3 67.9 L1116.2 67.8 L1117.0 67.7 L1117.9 67.7 L1118.8 67.6 L1119.6 67.5 L1120.5 67.4 L1121.4 67.3 L1122.2 67.3 L1123.1 67.2 L1123.9 67.1 L1124.8 67.0 L1125.7 66.9 L1126.5 66.9 L1127.4 66.8 L1128.2 66.7 L1129.1 66.6 L1130.0 66.5 L1130.8 66.5 L1131.7 66.4 L1132.6 66.3 L1133.4 66.2 L1134.3 66.1 L1135.1 66.1 L1136.0 66.0 L1136.9 65.9 L1137.7 65.8 L1138.6 65.8 L1139.5 65.7 L1140.3 65.6 L1141.2 65.5 L1142.0 65.5 L1142.9 65.4 L1143.8 65.3 L1144.6 65.2 L1145.5 65.2 L1146.4 65.1 L1147.2 65.0 L1148.1 64.9 L1148.9 64.9 L1149.8 64.8 L1150.7 64.7 L1151.5 64.6 L1152.4 64.6 L1153.3 64.5 L1154.1 64.4 L1155.0 64.3 L1155.8 64.3 L1156.7 64.2 L1157.6 64.1 L1158.4 64.1 L1159.3 64.0 L1160.2 63.9 L1161.0 63.8 L1161.9 63.8 L1162.7 63.7 L1163.6 63.6 L1164.5 63.6 L1165.3 63.5 L1166.2 63.4 L1167.1 63.4 L1167.9 63.3 L1168.8 63.2 L1169.6 63.1 L1170.5 63.1 L1171.4 63.0 L1172.2 62.9 L1173.1 62.9 L1174.0 62.8 L1174.8 62.7 L1175.7 62.7 L1176.5 62.6 L1177.4 62.5 L1178.3 62.5 L1179.1 62.4 L1180.0 62.3 L1180.9 62.3 L1181.7 62.2 L1182.6 62.1 L1183.4 62.1 L1184.3 62.0 L1185.2 61.9 L1186.0 61.9 L1186.9 61.8 L1187.8 61.7 L1188.6 61.7 L1189.5 61.6 L1190.3 61.5 L1191.2 61.5 L1192.1 61.4 L1192.9 61.3 L1193.8 61.3 L1194.6 61.2 L1195.5 61.1 L1196.4 61.1 L1197.2 61.0 L1198.1 61.0 L1199.0 60.9 L1199.8 60.8 L1200.7 60.8 L1201.5 60.7 L1202.4 60.6 L1203.3 60.6 L1204.1 60.5 L1205.0 60.5 L1205.9 60.4 L1206.7 60.3 L1207.6 60.3 L1208.4 60.2 L1209.3 60.1 L1210.2 60.1 L1211.0 60.0 L1211.9 60.0 L1212.8 59.9 L1213.6 59.8 L1214.5 59.8 L1215.3 59.7 L1216.2 59.7 L1217.1 59.6 L1217.9 59.5 L1218.8 59.5 L1219.7 59.4 L1220.5 59.4 L1221.4 59.3 L1222.2 59.2 L1223.1 59.2 L1224.0 59.1 L1224.8 59.1 L1225.7 59.0 L1226.6 58.9 L1227.4 58.9 L1228.3 58.8 L1229.1 58.8 L1230.0 58.7 L1230.9 58.7 L1231.7 58.6 L1232.6 58.5 L1233.5 58.5 L1234.3 58.4 L1235.2 58.4 L1236.0 58.3 L1236.9 58.3 L1237.8 58.2 L1238.6 58.1 L1239.5 58.1 L1240.4 58.0 L1241.2 58.0 L1242.1 57.9 L1242.9 57.9 L1243.8 57.8 L1244.7 57.7 L1245.5 57.7 L1246.4 57.6 L1247.3 57.6 L1248.1 57.5 L1249.0 57.5 L1249.8 57.4 L1250.7 57.4 L1251.6 57.3 L1252.4 57.2 L1253.3 57.2 L1254.2 57.1 L1255.0 57.1 L1255.9 57.0 L1256.7 57.0 L1257.6 56.9 L1258.5 56.9 L1259.3 56.8 L1260.2 56.8 L1261.0 56.7 L1261.9 56.7 L1262.8 56.6 L1263.6 56.5 L1264.5 56.5 L1265.4 56.4 L1266.2 56.4 L1267.1 56.3 L1267.9 56.3 L1268.8 56.2 L1269.7 56.2 L1270.5 56.1 L1271.4 56.1 L1272.3 56.0 L1273.1 56.0 L1274.0 55.9 L1274.8 55.9 L1275.7 55.8 L1276.6 55.8 L1277.4 55.7 L1278.3 55.7 L1279.2 55.6 L1280.0 55.6 L1280.9 55.5 L1281.7 55.5 L1282.6 55.4 L1283.5 55.4 L1284.3 55.3 L1285.2 55.3 L1286.1 55.2 L1286.9 55.2 L1287.8 55.1 L1288.6 55.1 L1289.5 55.0 L1290.4 55.0 L1291.2 54.9 L1292.1 54.9 L1293.0 54.8 L1293.8 54.8 L1294.7 54.7 L1295.5 54.7 L1296.4 54.6 L1297.3 54.6 L1298.1 54.5 L1299.0 54.5 L1299.9 54.4 L1300.7 54.4 L1301.6 54.3 L1302.4 54.3 L1303.3 54.2 L1304.2 54.2 L1305.0 54.1 L1305.9 54.1 L1306.8 54.0 L1307.6 54.0 L1308.5 53.9 L1309.3 53.9 L1310.2 53.8 L1311.1 53.8 L1311.9 53.7 L1312.8 53.7 L1313.7 53.6 L1314.5 53.6 L1315.4 53.5 L1316.2 53.5 L1317.1 53.5 L1318.0 53.4 L1318.8 53.4 L1319.7 53.3 L1320.5 53.3 L1321.4 53.2 L1322.3 53.2 L1323.1 53.1 L1324.0 53.1 L1324.9 53.0 L1325.7 53.0 L1326.6 52.9 L1327.4 52.9 L1328.3 52.9 L1329.2 52.8 L1330.0 52.8 L1330.9 52.7 L1331.8 52.7 L1332.6 52.6 L1333.5 52.6 L1334.3 52.5 L1335.2 52.5 L1336.1 52.4 L1336.9 52.4 L1337.8 52.4 L1338.7 52.3 L1339.5 52.3 L1340.4 52.2 L1341.2 52.2 L1342.1 52.1 L1343.0 52.1 L1343.8 52.0 L1344.7 52.0 L1345.6 52.0 L1346.4 51.9 L1347.3 51.9 L1348.1 51.8 L1349.0 51.8 L1349.9 51.7 L1350.7 51.7 L1351.6 51.7 L1352.5 51.6 L1353.3 51.6 L1354.2 51.5 L1355.0 51.5 L1355.9 51.4 L1356.8 51.4 L1357.6 51.4 L1358.5 51.3 L1359.4 51.3 L1360.2 51.2 L1361.1 51.2 L1361.9 51.1 L1362.8 51.1 L1363.7 51.1 L1364.5 51.0 L1365.4 51.0 L1366.3 50.9 L1367.1 50.9 L1368.0 50.8 L1368.8 50.8 L1369.7 50.8 L1370.6 50.7 L1371.4 50.7 L1372.3 50.6 L1373.2 50.6 L1374.0 50.6 L1374.9 50.5 L1375.7 50.5 L1376.6 50.4 L1377.5 50.4 L1378.3 50.4 L1379.2 50.3 L1380.1 50.3 L1380.9 50.2 L1381.8 50.2 L1382.6 50.1 L1383.5 50.1" stroke="#FFB000" stroke-width="7" fill="none" stroke-linejoin="bevel"/><path d="M348.7 42.2 L349.6 42.2 L350.4 42.3 L351.3 42.3 L352.1 42.3 L353.0 42.3 L353.9 42.3 L354.7 42.3 L355.6 42.4 L356.5 42.4 L357.3 42.4 L358.2 42.4 L359.0 42.5 L359.9 42.5 L360.8 42.5 L361.6 42.5 L362.5 42.6 L363.4 42.6 L364.2 42.6 L365.1 42.7 L365.9 42.7 L366.8 42.7 L367.7 42.8 L368.5 42.8 L369.4 42.9 L370.3 42.9 L371.1 43.0 L372.0 43.0 L372.8 43.0 L373.7 43.1 L374.6 43.1 L375.4 43.2 L376.3 43.2 L377.2 43.3 L378.0 43.3 L378.9 43.4 L379.7 43.5 L380.6 43.5 L381.5 43.6 L382.3 43.6 L383.2 43.7 L384.1 43.8 L384.9 43.8 L385.8 43.9 L386.6 43.9 L387.5 44.0 L388.4 44.1 L389.2 44.2 L390.1 44.2 L391.0 44.3 L391.8 44.4 L392.7 44.4 L393.5 44.5 L394.4 44.6 L395.3 44.7 L396.1 44.7 L397.0 44.8 L397.9 44.9 L398.7 45.0 L399.6 45.1 L400.4 45.2 L401.3 45.2 L402.2 45.3 L403.0 45.4 L403.9 45.5 L404.8 45.6 L405.6 45.7 L406.5 45.8 L407.3 45.9 L408.2 46.0 L409.1 46.1 L409.9 46.2 L410.8 46.3 L411.7 46.4 L412.5 46.5 L413.4 46.6 L414.2 46.7 L415.1 46.8 L416.0 46.9 L416.8 47.0 L417.7 47.1 L418.5 47.2 L419.4 47.3 L420.3 47.4 L421.1 47.5 L422.0 47.6 L422.9 47.7 L423.7 47.8 L424.6 48.0 L425.4 48.1 L426.3 48.2 L427.2 48.3 L428.0 48.4 L428.9 48.5 L429.8 48.7 L430.6 48.8 L431.5 48.9 L432.3 49.0 L433.2 49.2 L434.1 49.3 L434.9 49.4 L435.8 49.5 L436.7 49.7 L437.5 49.8 L438.4 49.9 L439.2 50.1 L440.1 50.2 L441.0 50.3 L441.8 50.5 L442.7 50.6 L443.6 50.7 L444.4 50.9 L445.3 51.0 L446.1 51.2 L447.0 51.3 L447.9 51.5 L448.7 51.6 L449.6 51.7 L450.5 51.9 L451.3 52.0 L452.2 52.2 L453.0 52.3 L453.9 52.5 L454.8 52.6 L455.6 52.8 L456.5 52.9 L457.4 53.1 L458.2 53.2 L459.1 53.4 L459.9 53.6 L460.8 53.7 L461.7 53.9 L462.5 54.0 L463.4 54.2 L464.3 54.4 L465.1 54.5 L466.0 54.7 L466.8 54.8 L467.7 55.0 L468.6 55.2 L469.4 55.3 L470.3 55.5 L471.2 55.7 L472.0 55.8 L472.9 56.0 L473.7 56.2 L474.6 56.4 L475.5 56.5 L476.3 56.7 L477.2 56.9 L478.0 57.1 L478.9 57.2 L479.8 57.4 L480.6 57.6 L481.5 57.8 L482.4 58.0 L483.2 58.2 L484.1 58.3 L484.9 58.5 L485.8 58.7 L486.7 58.9 L487.5 59.1 L488.4 59.3 L489.3 59.5 L490.1 59.7 L491.0 59.9 L491.8 60.0 L492.7 60.2 L493.6 60.4 L494.4 60.6 L495.3 60.8 L496.2 61.0 L497.0 61.2 L497.9 61.4 L498.7 61.6 L499.6 61.8 L500.5 62.0 L501.3 62.2 L502.2 62.4 L503.1 62.6 L503.9 62.9 L504.8 63.1 L505.6 63.3 L506.5 63.5 L507.4 63.7 L508.2 63.9 L509.1 64.1 L510.0 64.3 L510.8 64.5 L511.7 64.8 L512.5 65.0 L513.4 65.2 L514.3 65.4 L515.1 65.6 L516.0 65.9 L516.9 66.1 L517.7 66.3 L518.6 66.5 L519.4 66.7 L520.3 67.0 L521.2 67.2 L522.0 67.4 L522.9 67.7 L523.8 67.9 L524.6 68.1 L525.5 68.4 L526.3 68.6 L527.2 68.8 L528.1 69.1 L528.9 69.3 L529.8 69.5 L530.7 69.8 L531.5 70.0 L532.4 70.2 L533.2 70.5 L534.1 70.7 L535.0 71.0 L535.8 71.2 L536.7 71.5 L537.6 71.7 L538.4 72.0 L539.3 72.2 L540.1 72.5 L541.0 72.7 L541.9 73.0 L542.7 73.2 L543.6 73.5 L544.4 73.7 L545.3 74.0 L546.2 74.2 L547.0 74.5 L547.9 74.7 L548.8 75.0 L549.6 75.3 L550.5 75.5 L551.3 75.8 L552.2 76.1 L553.1 76.3 L553.9 76.6 L554.8 76.9 L555.7 77.1 L556.5 77.4 L557.4 77.7 L558.2 77.9 L559.1 78.2 L560.0 78.5 L560.8 78.8 L561.7 79.0 L562.6 79.3 L563.4 79.6 L564.3 79.9 L565.1 80.1 L566.0 80.4 L566.9 80.7 L567.7 81.0 L568.6 81.3 L569.5 81.6 L570.3 81.9 L571.2 82.1 L572.0 82.4 L572.9 82.7 L573.8 83.0 L574.6 83.3 L575.5 83.6 L576.4 83.9 L577.2 84.2 L578.1 84.5 L578.9 84.8 L579.8 85.1 L580.7 85.4 L581.5 85.7 L582.4 86.0 L583.3 86.3 L584.1 86.6 L585.0 86.9 L585.8 87.2 L586.7 87.5 L587.6 87.8 L588.4 88.2 L589.3 88.5 L590.2 88.8 L591.0 89.1 L591.9 89.4 L592.7 89.7 L593.6 90.1 L594.5 90.4 L595.3 90.7 L596.2 91.0 L597.1 91.3 L597.9 91.7 L598.8 92.0 L599.6 92.3 L600.5 92.7 L601.4 93.0 L602.2 93.3 L603.1 93.7 L604.0 94.0 L604.8 94.3 L605.7 94.7 L606.5 95.0 L607.4 95.3 L608.3 95.7 L609.1 96.0 L610.0 96.4 L610.8 96.7 L611.7 97.1 L612.6 97.4 L613.4 97.8 L614.3 98.1 L615.2 98.5 L616.0 98.8 L616.9 99.2 L617.7 99.5 L618.6 99.9 L619.5 100.2 L620.3 100.6 L621.2 101.0 L622.1 101.3 L622.9 101.7 L623.8 102.1 L624.6 102.4 L625.5 102.8 L626.4 103.2 L627.2 103.5 L628.1 103.9 L629.0 104.3 L629.8 104.7 L630.7 105.1 L631.5 105.4 L632.4 105.8 L633.3 106.2 L634.1 106.6 L635.0 107.0 L635.9 107.4 L636.7 107.7 L637.6 108.1 L638.4 108.5 L639.3 108.9 L640.2 109.3 L641.0 109.7 L641.9 110.1 L642.8 110.5 L643.6 110.9 L644.5 111.3 L645.3 111.7 L646.2 112.1 L647.1 112.6 L647.9 113.0 L648.8 113.4 L649.7 113.8 L650.5 114.2 L651.4 114.6 L652.2 115.0 L653.1 115.5 L654.0 115.9 L654.8 116.3 L655.7 116.7 L656.6 117.2 L657.4 117.6 L658.3 118.0 L659.1 118.5 L660.0 118.9 L660.9 119.4 L661.7 119.8 L662.6 120.2 L663.5 120.7 L664.3 121.1 L665.2 121.6 L666.0 122.0 L666.9 122.5 L667.8 122.9 L668.6 123.4 L669.5 123.8 L670.4 124.3 L671.2 124.8 L672.1 125.2 L672.9 125.7 L673.8 126.2 L674.7 126.6 L675.5 127.1 L676.4 127.6 L677.2 128.1 L678.1 128.5 L679.0 129.0 L679.8 129.5 L680.7 130.0 L681.6 130.5 L682.4 131.0 L683.3 131.5 L684.1 132.0 L685.0 132.5 L685.9 133.0 L686.7 133.5 L687.6 134.0 L688.5 134.5 L689.3 135.0 L690.2 135.5 L691.0 136.0 L691.9 136.5 L692.8 137.1 L693.6 137.6 L694.5 138.1 L695.4 138.6 L696.2 139.2 L697.1 139.7 L697.9 140.3 L698.8 140.8 L699.7 141.3 L700.5 141.9 L701.4 142.4 L702.3 143.0 L703.1 143.5 L704.0 144.1 L704.8 144.6 L705.7 145.2 L706.6 145.8 L707.4 146.3 L708.3 146.9 L709.2 147.5 L710.0 148.1 L710.9 148.6 L711.7 149.2 L712.6 149.8 L713.5 150.4 L714.3 151.0 L715.2 151.6 L716.1 152.2 L716.9 152.8 L717.8 153.4 L718.6 154.0 L719.5 154.6 L720.4 155.3 L721.2 155.9 L722.1 156.5 L723.0 157.1 L723.8 157.8 L724.7 158.4 L725.5 159.0 L726.4 159.7 L727.3 160.3 L728.1 161.0 L729.0 161.6 L729.9 162.3 L730.7 163.0 L731.6 163.6 L732.4 164.3 L733.3 165.0 L734.2 165.7 L735.0 166.3 L735.9 167.0 L736.8 167.7 L737.6 168.4 L738.5 169.1 L739.3 169.8 L740.2 170.5 L741.1 171.3 L741.9 172.0 L742.8 172.7 L743.6 173.4 L744.5 174.2 L745.4 174.9 L746.2 175.7 L747.1 176.4 L748.0 177.2 L748.8 177.9 L749.7 178.7 L750.5 179.5 L751.4 180.3 L752.3 181.0 L753.1 181.8 L754.0 182.6 L754.9 183.4 L755.7 184.2 L756.6 185.1 L757.4 185.9 L758.3 186.7 L759.2 187.5 L760.0 188.4 L760.9 189.2 L761.8 190.1 L762.6 190.9 L763.5 191.8 L764.3 192.7 L765.2 193.6 L766.1 194.4 L766.9 195.3 L767.8 196.2 L768.3 196.8 L768.7 197.2 L769.5 198.1 L770.4 199.0 L771.2 199.9 L772.1 200.9 L773.0 201.8 L773.5 202.4 L773.8 202.8 L774.7 203.8 L775.6 204.7 L776.4 205.7 L777.3 206.7 L778.1 207.7 L778.4 208.1 L779.0 208.7 L779.9 209.8 L780.7 210.8 L781.6 211.8 L782.5 212.9 L783.1 213.7 L784.2 215.0 L785.0 216.1 L785.9 217.2 L786.8 218.3 L787.5 219.4 L788.5 220.6 L789.4 221.7 L790.2 222.9 L791.1 224.1 L791.7 225.0 L792.8 226.5 L793.7 227.7 L794.5 228.9 L795.4 230.1 L795.7 230.6 L796.3 231.4 L797.1 232.7 L798.0 233.9 L798.8 235.2 L799.5 236.2 L799.7 236.6 L800.6 237.9 L801.4 239.2 L802.3 240.6 L803.0 241.8 L804.0 243.4 L804.9 244.8 L805.7 246.3 L806.4 247.4 L807.5 249.2 L808.3 250.7 L809.2 252.3 L809.6 252.9 L810.0 253.8 L810.9 255.4 L811.8 257.0 L812.6 258.5 L813.5 260.2 L814.4 261.9 L815.2 263.6 L815.4 264.1 L816.1 265.3 L816.9 267.1 L817.8 268.9 L818.2 269.6 L818.7 270.7 L819.5 272.6 L820.4 274.5 L820.7 275.2 L821.3 276.4 L822.1 278.3 L823.0 280.3 L823.8 282.4 L824.7 284.4 L825.4 286.2 L826.4 288.7 L827.3 290.9 L827.6 291.8 L828.2 293.2 L829.0 295.5 L829.7 297.3 L829.9 297.9 L830.7 300.3 L831.6 302.8 L832.5 305.3 L833.3 307.9 L834.2 310.6 L835.1 313.3 L835.2 313.8 L835.9 316.1 L836.8 319.0 L837.6 322.0 L838.4 324.8 L839.4 328.2 L839.9 330.3 L840.2 331.5 L841.1 334.9 L841.3 335.8 L842.0 338.4 L842.6 341.2 L842.8 342.0 L843.7 345.7 L843.9 346.7 L844.5 349.6 L845.1 352.2 L845.4 353.7 L846.2 357.6 L847.1 362.3 L847.3 363.1 L848.0 366.9 L848.3 368.6 L848.9 371.7 L849.2 374.0 L849.7 376.8 L850.2 379.5 L850.6 382.1 L851.0 384.9 L851.4 387.8 L851.8 390.4 L852.3 393.7 L852.6 395.8 L853.2 400.1 L853.3 401.3 L854.0 406.7 L854.7 412.1 L854.9 414.1 L855.3 417.6 L855.8 422.0 L855.9 423.0 L856.4 428.4 L856.6 430.5 L856.9 433.9 L857.4 439.3 L857.9 444.7 L858.3 450.0 L858.8 455.6 L859.2 461.0 L859.5 466.4 L859.9 471.9 L860.1 474.4 L860.2 477.3 L860.6 482.7 L860.9 488.1 L860.9 489.2 L861.2 493.5 L861.4 498.9 L861.7 504.4 L861.8 506.7 L861.9 509.8 L862.2 515.2 L862.4 520.6 L862.6 526.0 L862.7 527.9 L862.8 531.4 L863.0 536.8 L863.1 542.3 L863.3 547.7 L863.5 553.1 L863.5 554.9 L863.6 558.5 L863.8 563.9 L863.9 569.3 L864.0 574.7 L864.1 580.1 L864.2 585.5 L864.4 590.9 L864.4 592.2 L864.5 596.3 L864.5 601.7 L864.6 607.1 L864.7 612.5 L864.8 618.0 L864.9 623.4 L865.0 628.8 L865.0 634.2 L865.1 639.6 L865.2 645.0 L865.2 650.4 L865.2 652.7 L865.3 655.8 L865.3 661.2 L865.4 666.6 L865.4 672.0 L865.5 677.4 L865.5 682.8 L865.5 688.2 L865.6 693.6 L865.6 699.0 L865.7 704.4 L865.7 709.8 L865.7 715.2 L865.7 720.6 L865.8 726.0 L865.8 731.4 L865.8 736.8 L865.8 742.2 L865.9 747.6 L865.9 753.0 L865.9 758.4 L865.9 763.8 L865.9 769.2 L866.0 774.6 L866.0 780.0 L866.0 785.4 L866.0 790.8 L866.0 796.2 L866.0 801.6 L866.0 807.0 L866.1 812.4 L866.1 817.8 L866.1 823.2 L866.1 828.6 L866.1 832.6 L866.4 828.6 L866.4 823.2 L866.4 817.8 L866.5 812.5 L866.5 807.1 L866.5 801.7 L866.5 796.3 L866.5 790.9 L866.5 785.5 L866.5 780.1 L866.6 774.7 L866.6 769.3 L866.6 763.9 L866.6 758.5 L866.6 753.1 L866.6 747.7 L866.7 742.3 L866.7 736.9 L866.7 731.5 L866.7 726.1 L866.8 720.7 L866.8 715.3 L866.8 709.9 L866.9 704.5 L866.9 699.1 L866.9 693.7 L867.0 689.4 L867.0 688.3 L867.0 682.9 L867.1 677.5 L867.1 672.1 L867.1 666.7 L867.2 661.3 L867.2 655.9 L867.3 650.5 L867.4 645.1 L867.4 639.7 L867.5 634.3 L867.6 628.9 L867.6 623.5 L867.7 618.1 L867.8 612.7 L867.8 610.5 L867.9 607.3 L868.0 601.9 L868.1 596.6 L868.2 591.2 L868.3 585.8 L868.4 580.4 L868.5 575.0 L868.6 569.6 L868.7 567.3 L868.8 564.2 L868.9 558.8 L869.1 553.4 L869.2 548.0 L869.4 542.6 L869.5 537.4 L869.7 531.9 L869.9 526.5 L870.1 521.1 L870.4 515.7 L870.4 514.4 L870.6 510.3 L870.8 504.9 L871.1 499.5 L871.3 495.9 L871.4 494.2 L871.6 488.8 L872.0 483.4 L872.1 480.3 L872.3 478.0 L872.6 472.6 L873.0 467.3 L873.3 461.9 L873.7 456.5 L873.9 455.0 L874.2 451.1 L874.6 445.8 L874.7 444.4 L875.1 440.4 L875.6 435.0 L876.1 429.7 L876.4 426.2 L876.7 424.3 L877.2 418.9 L877.3 418.3 L877.9 413.6 L878.2 410.9 L878.5 408.2 L879.0 404.1 L879.2 402.8 L879.9 397.7 L880.7 392.1 L881.5 386.8 L881.6 386.0 L882.4 381.4 L882.5 380.7 L883.3 376.1 L884.2 370.8 L885.1 366.3 L885.2 365.4 L885.9 361.9 L886.3 360.1 L886.8 357.7 L887.4 354.8 L887.7 353.7 L888.5 349.9 L889.4 346.2 L889.9 344.1 L890.2 342.6 L891.1 339.2 L892.0 335.9 L892.6 333.5 L892.8 332.7 L893.7 329.6 L894.1 328.2 L894.6 326.6 L895.4 323.7 L895.7 322.9 L896.3 320.8 L897.1 318.1 L897.3 317.6 L898.0 315.4 L898.9 312.9 L899.1 312.3 L899.7 310.3 L900.6 307.9 L900.9 307.0 L901.5 305.5 L902.3 303.2 L902.8 301.7 L903.2 300.9 L904.0 298.7 L904.9 296.5 L905.8 294.4 L906.6 292.3 L907.1 291.2 L907.5 290.3 L908.4 288.3 L909.2 286.3 L910.1 284.4 L910.9 282.5 L911.8 280.7 L912.7 278.9 L913.5 277.2 L914.4 275.5 L915.3 273.7 L916.1 272.1 L917.0 270.4 L917.8 268.8 L918.7 267.2 L919.6 265.7 L919.9 265.0 L920.4 264.2 L921.3 262.7 L922.2 261.2 L922.9 259.8 L923.9 258.3 L924.7 256.9 L925.6 255.5 L926.1 254.7 L926.5 254.1 L927.3 252.8 L928.2 251.5 L929.1 250.2 L929.5 249.5 L929.9 248.9 L930.8 247.6 L931.6 246.3 L932.5 245.1 L933.1 244.3 L933.4 243.9 L934.2 242.7 L935.1 241.5 L935.9 240.3 L936.8 239.2 L937.7 238.0 L938.5 236.9 L939.4 235.8 L940.3 234.7 L940.8 234.0 L941.1 233.6 L942.0 232.5 L942.8 231.5 L943.7 230.4 L944.6 229.4 L945.0 228.9 L945.4 228.4 L946.3 227.4 L947.2 226.4 L948.0 225.4 L948.9 224.4 L949.4 223.8 L949.7 223.4 L950.6 222.5 L951.5 221.5 L952.3 220.6 L953.2 219.7 L954.1 218.7 L954.9 217.8 L955.8 216.9 L956.6 216.1 L957.5 215.2 L958.4 214.3 L959.0 213.7 L960.1 212.6 L961.0 211.7 L961.8 210.9 L962.7 210.1 L963.5 209.3 L964.2 208.6 L965.3 207.6 L966.1 206.9 L967.0 206.1 L967.9 205.3 L968.7 204.5 L969.6 203.7 L970.4 203.0 L971.3 202.2 L972.2 201.5 L973.0 200.7 L973.9 200.0 L974.8 199.3 L975.6 198.6 L976.5 197.8 L977.3 197.1 L978.2 196.4 L979.1 195.7 L979.9 195.0 L980.8 194.3 L981.7 193.7 L982.5 193.0 L983.4 192.3 L984.2 191.7 L985.1 191.0 L986.0 190.3 L986.8 189.7 L987.7 189.1 L988.6 188.4 L989.4 187.8 L990.3 187.2 L991.1 186.5 L992.0 185.9 L992.9 185.3 L993.7 184.7 L994.6 184.1 L995.5 183.5 L996.3 182.9 L997.2 182.3 L998.0 181.7 L998.9 181.1 L999.8 180.5 L1000.6 180.0 L1001.5 179.4 L1002.3 178.8 L1003.2 178.3 L1004.1 177.7 L1004.9 177.2 L1005.8 176.6 L1006.7 176.1 L1007.5 175.5 L1008.4 175.0 L1009.2 174.4 L1010.1 173.9 L1011.0 173.4 L1011.8 172.9 L1012.7 172.3 L1013.6 171.8 L1014.4 171.3 L1015.3 170.8 L1016.1 170.3 L1017.0 169.8 L1017.9 169.3 L1018.7 168.8 L1019.6 168.3 L1020.5 167.8 L1021.3 167.3 L1022.2 166.8 L1023.0 166.3 L1023.9 165.9 L1024.8 165.4 L1025.6 164.9 L1026.5 164.4 L1027.4 164.0 L1028.2 163.5 L1029.1 163.0 L1029.9 162.6 L1030.8 162.1 L1031.7 161.7 L1032.5 161.2 L1033.4 160.8 L1034.3 160.3 L1035.1 159.9 L1036.0 159.5 L1036.8 159.0 L1037.7 158.6 L1038.6 158.1 L1039.4 157.7 L1040.3 157.3 L1041.2 156.9 L1042.0 156.4 L1042.9 156.0 L1043.7 155.6 L1044.6 155.2 L1045.5 154.8 L1046.3 154.4 L1047.2 154.0 L1048.1 153.6 L1048.9 153.1 L1049.8 152.7 L1050.6 152.3 L1051.5 151.9 L1052.4 151.6 L1053.2 151.2 L1054.1 150.8 L1055.0 150.4 L1055.8 150.0 L1056.7 149.6 L1057.5 149.2 L1058.4 148.8 L1059.3 148.5 L1060.1 148.1 L1061.0 147.7 L1061.8 147.3 L1062.7 147.0 L1063.6 146.6 L1064.4 146.2 L1065.3 145.9 L1066.2 145.5 L1067.0 145.2 L1067.9 144.8 L1068.7 144.4 L1069.6 144.1 L1070.5 143.7 L1071.3 143.4 L1072.2 143.0 L1073.1 142.7 L1073.9 142.3 L1074.8 142.0 L1075.6 141.6 L1076.5 141.3 L1077.4 141.0 L1078.2 140.6 L1079.1 140.3 L1080.0 140.0 L1080.8 139.6 L1081.7 139.3 L1082.5 139.0 L1083.4 138.6 L1084.3 138.3 L1085.1 138.0 L1086.0 137.7 L1086.9 137.3 L1087.7 137.0 L1088.6 136.7 L1089.4 136.4 L1090.3 136.1 L1091.2 135.8 L1092.0 135.4 L1092.9 135.1 L1093.8 134.8 L1094.6 134.5 L1095.5 134.2 L1096.3 133.9 L1097.2 133.6 L1098.1 133.3 L1098.9 133.0 L1099.8 132.7 L1100.7 132.4 L1101.5 132.1 L1102.4 131.8 L1103.2 131.5 L1104.1 131.2 L1105.0 130.9 L1105.8 130.6 L1106.7 130.3 L1107.6 130.1 L1108.4 129.8 L1109.3 129.5 L1110.1 129.2 L1111.0 128.9 L1111.9 128.6 L1112.7 128.4 L1113.6 128.1 L1114.5 127.8 L1115.3 127.5 L1116.2 127.2 L1117.0 127.0 L1117.9 126.7 L1118.8 126.4 L1119.6 126.2 L1120.5 125.9 L1121.4 125.6 L1122.2 125.4 L1123.1 125.1 L1123.9 124.8 L1124.8 124.6 L1125.7 124.3 L1126.5 124.0 L1127.4 123.8 L1128.2 123.5 L1129.1 123.3 L1130.0 123.0 L1130.8 122.7 L1131.7 122.5 L1132.6 122.2 L1133.4 122.0 L1134.3 121.7 L1135.1 121.5 L1136.0 121.2 L1136.9 121.0 L1137.7 120.7 L1138.6 120.5 L1139.5 120.2 L1140.3 120.0 L1141.2 119.8 L1142.0 119.5 L1142.9 119.3 L1143.8 119.0 L1144.6 118.8 L1145.5 118.6 L1146.4 118.3 L1147.2 118.1 L1148.1 117.9 L1148.9 117.6 L1149.8 117.4 L1150.7 117.2 L1151.5 116.9 L1152.4 116.7 L1153.3 116.5 L1154.1 116.2 L1155.0 116.0 L1155.8 115.8 L1156.7 115.6 L1157.6 115.3 L1158.4 115.1 L1159.3 114.9 L1160.2 114.7 L1161.0 114.4 L1161.9 114.2 L1162.7 114.0 L1163.6 113.8 L1164.5 113.6 L1165.3 113.3 L1166.2 113.1 L1167.1 112.9 L1167.9 112.7 L1168.8 112.5 L1169.6 112.3 L1170.5 112.1 L1171.4 111.9 L1172.2 111.6 L1173.1 111.4 L1174.0 111.2 L1174.8 111.0 L1175.7 110.8 L1176.5 110.6 L1177.4 110.4 L1178.3 110.2 L1179.1 110.0 L1180.0 109.8 L1180.9 109.6 L1181.7 109.4 L1182.6 109.2 L1183.4 109.0 L1184.3 108.8 L1185.2 108.6 L1186.0 108.4 L1186.9 108.2 L1187.8 108.0 L1188.6 107.8 L1189.5 107.6 L1190.3 107.4 L1191.2 107.2 L1192.1 107.0 L1192.9 106.8 L1193.8 106.6 L1194.6 106.4 L1195.5 106.3 L1196.4 106.1 L1197.2 105.9 L1198.1 105.7 L1199.0 105.5 L1199.8 105.3 L1200.7 105.1 L1201.5 105.0 L1202.4 104.8 L1203.3 104.6 L1204.1 104.4 L1205.0 104.2 L1205.9 104.0 L1206.7 103.9 L1207.6 103.7 L1208.4 103.5 L1209.3 103.3 L1210.2 103.1 L1211.0 103.0 L1211.9 102.8 L1212.8 102.6 L1213.6 102.4 L1214.5 102.3 L1215.3 102.1 L1216.2 101.9 L1217.1 101.7 L1217.9 101.6 L1218.8 101.4 L1219.7 101.2 L1220.5 101.1 L1221.4 100.9 L1222.2 100.7 L1223.1 100.6 L1224.0 100.4 L1224.8 100.2 L1225.7 100.0 L1226.6 99.9 L1227.4 99.7 L1228.3 99.6 L1229.1 99.4 L1230.0 99.2 L1230.9 99.1 L1231.7 98.9 L1232.6 98.7 L1233.5 98.6 L1234.3 98.4 L1235.2 98.3 L1236.0 98.1 L1236.9 97.9 L1237.8 97.8 L1238.6 97.6 L1239.5 97.5 L1240.4 97.3 L1241.2 97.2 L1242.1 97.0 L1242.9 96.8 L1243.8 96.7 L1244.7 96.5 L1245.5 96.4 L1246.4 96.2 L1247.3 96.1 L1248.1 95.9 L1249.0 95.8 L1249.8 95.6 L1250.7 95.5 L1251.6 95.3 L1252.4 95.2 L1253.3 95.0 L1254.2 94.9 L1255.0 94.7 L1255.9 94.6 L1256.7 94.4 L1257.6 94.3 L1258.5 94.1 L1259.3 94.0 L1260.2 93.9 L1261.0 93.7 L1261.9 93.6 L1262.8 93.4 L1263.6 93.3 L1264.5 93.1 L1265.4 93.0 L1266.2 92.9 L1267.1 92.7 L1267.9 92.6 L1268.8 92.4 L1269.7 92.3 L1270.5 92.2 L1271.4 92.0 L1272.3 91.9 L1273.1 91.8 L1274.0 91.6 L1274.8 91.5 L1275.7 91.3 L1276.6 91.2 L1277.4 91.1 L1278.3 90.9 L1279.2 90.8 L1280.0 90.7 L1280.9 90.5 L1281.7 90.4 L1282.6 90.3 L1283.5 90.1 L1284.3 90.0 L1285.2 89.9 L1286.1 89.8 L1286.9 89.6 L1287.8 89.5 L1288.6 89.4 L1289.5 89.2 L1290.4 89.1 L1291.2 89.0 L1292.1 88.9 L1293.0 88.7 L1293.8 88.6 L1294.7 88.5 L1295.5 88.4 L1296.4 88.2 L1297.3 88.1 L1298.1 88.0 L1299.0 87.9 L1299.9 87.7 L1300.7 87.6 L1301.6 87.5 L1302.4 87.4 L1303.3 87.2 L1304.2 87.1 L1305.0 87.0 L1305.9 86.9 L1306.8 86.8 L1307.6 86.6 L1308.5 86.5 L1309.3 86.4 L1310.2 86.3 L1311.1 86.2 L1311.9 86.1 L1312.8 85.9 L1313.7 85.8 L1314.5 85.7 L1315.4 85.6 L1316.2 85.5 L1317.1 85.4 L1318.0 85.3 L1318.8 85.1 L1319.7 85.0 L1320.5 84.9 L1321.4 84.8 L1322.3 84.7 L1323.1 84.6 L1324.0 84.5 L1324.9 84.4 L1325.7 84.2 L1326.6 84.1 L1327.4 84.0 L1328.3 83.9 L1329.2 83.8 L1330.0 83.7 L1330.9 83.6 L1331.8 83.5 L1332.6 83.4 L1333.5 83.3 L1334.3 83.2 L1335.2 83.1 L1336.1 82.9 L1336.9 82.8 L1337.8 82.7 L1338.7 82.6 L1339.5 82.5 L1340.4 82.4 L1341.2 82.3 L1342.1 82.2 L1343.0 82.1 L1343.8 82.0 L1344.7 81.9 L1345.6 81.8 L1346.4 81.7 L1347.3 81.6 L1348.1 81.5 L1349.0 81.4 L1349.9 81.3 L1350.7 81.2 L1351.6 81.1 L1352.5 81.0 L1353.3 80.9 L1354.2 80.8 L1355.0 80.7 L1355.9 80.6 L1356.8 80.5 L1357.6 80.4 L1358.5 80.3 L1359.4 80.2 L1360.2 80.1 L1361.1 80.0 L1361.9 79.9 L1362.8 79.8 L1363.7 79.7 L1364.5 79.6 L1365.4 79.6 L1366.3 79.5 L1367.1 79.4 L1368.0 79.3 L1368.8 79.2 L1369.7 79.1 L1370.6 79.0 L1371.4 78.9 L1372.3 78.8 L1373.2 78.7 L1374.0 78.6 L1374.9 78.5 L1375.7 78.4 L1376.6 78.4 L1377.5 78.3 L1378.3 78.2 L1379.2 78.1 L1380.1 78.0 L1380.9 77.9 L1381.8 77.8 L1382.6 77.7 L1383.5 77.7" stroke="#8F2A90" stroke-width="7" fill="none" stroke-linejoin="bevel"/><path d="M348.7 73.7 L349.6 73.3 L350.4 73.0 L351.3 72.6 L352.1 72.2 L353.0 71.8 L353.9 71.4 L354.7 71.0 L355.6 70.7 L356.5 70.3 L357.3 69.9 L358.2 69.6 L359.0 69.2 L359.9 68.8 L360.8 68.5 L361.6 68.1 L362.5 67.8 L363.4 67.5 L364.2 67.1 L365.1 66.8 L365.9 66.5 L366.8 66.1 L367.7 65.8 L368.5 65.5 L369.4 65.2 L370.3 64.8 L371.1 64.5 L372.0 64.2 L372.8 63.9 L373.7 63.6 L374.6 63.3 L375.4 63.0 L376.3 62.7 L377.2 62.4 L378.0 62.1 L378.9 61.9 L379.7 61.6 L380.6 61.3 L381.5 61.0 L382.3 60.7 L383.2 60.5 L384.1 60.2 L384.9 59.9 L385.8 59.7 L386.6 59.4 L387.5 59.2 L388.4 58.9 L389.2 58.7 L390.1 58.4 L391.0 58.2 L391.8 57.9 L392.7 57.7 L393.5 57.4 L394.4 57.2 L395.3 57.0 L396.1 56.7 L397.0 56.5 L397.9 56.3 L398.7 56.0 L399.6 55.8 L400.4 55.6 L401.3 55.4 L402.2 55.2 L403.0 54.9 L403.9 54.7 L404.8 54.5 L405.6 54.3 L406.5 54.1 L407.3 53.9 L408.2 53.7 L409.1 53.5 L409.9 53.3 L410.8 53.1 L411.7 52.9 L412.5 52.7 L413.4 52.6 L414.2 52.4 L415.1 52.2 L416.0 52.0 L416.8 51.8 L417.7 51.7 L418.5 51.5 L419.4 51.3 L420.3 51.1 L421.1 51.0 L422.0 50.8 L422.9 50.6 L423.7 50.5 L424.6 50.3 L425.4 50.2 L426.3 50.0 L427.2 49.8 L428.0 49.7 L428.9 49.5 L429.8 49.4 L430.6 49.2 L431.5 49.1 L432.3 48.9 L433.2 48.8 L434.1 48.7 L434.9 48.5 L435.8 48.4 L436.7 48.3 L437.5 48.1 L438.4 48.0 L439.2 47.9 L440.1 47.7 L441.0 47.6 L441.8 47.5 L442.7 47.4 L443.6 47.2 L444.4 47.1 L445.3 47.0 L446.1 46.9 L447.0 46.8 L447.9 46.7 L448.7 46.5 L449.6 46.4 L450.5 46.3 L451.3 46.2 L452.2 46.1 L453.0 46.0 L453.9 45.9 L454.8 45.8 L455.6 45.7 L456.5 45.6 L457.4 45.5 L458.2 45.4 L459.1 45.3 L459.9 45.2 L460.8 45.1 L461.7 45.1 L462.5 45.0 L463.4 44.9 L464.3 44.8 L465.1 44.7 L466.0 44.6 L466.8 44.6 L467.7 44.5 L468.6 44.4 L469.4 44.3 L470.3 44.3 L471.2 44.2 L472.0 44.1 L472.9 44.0 L473.7 44.0 L474.6 43.9 L475.5 43.8 L476.3 43.8 L477.2 43.7 L478.0 43.7 L478.9 43.6 L479.8 43.5 L480.6 43.5 L481.5 43.4 L482.4 43.4 L483.2 43.3 L484.1 43.3 L484.9 43.2 L485.8 43.2 L486.7 43.1 L487.5 43.1 L488.4 43.0 L489.3 43.0 L490.1 42.9 L491.0 42.9 L491.8 42.9 L492.7 42.8 L493.6 42.8 L494.4 42.7 L495.3 42.7 L496.2 42.7 L497.0 42.6 L497.9 42.6 L498.7 42.6 L499.6 42.6 L500.5 42.5 L501.3 42.5 L502.2 42.5 L503.1 42.4 L503.9 42.4 L504.8 42.4 L505.6 42.4 L506.5 42.4 L507.4 42.3 L508.2 42.3 L509.1 42.3 L510.0 42.3 L510.8 42.3 L511.7 42.3 L512.5 42.3 L513.4 42.2 L514.3 42.2 L515.1 42.2 L516.0 42.2 L516.9 42.2 L517.7 42.2 L518.6 42.2 L519.4 42.2 L520.3 42.2 L521.2 42.2 L522.0 42.2 L522.9 42.2 L523.8 42.2 L524.6 42.2 L525.5 42.2 L526.3 42.2 L527.2 42.2 L528.1 42.2 L528.9 42.2 L529.8 42.3 L530.7 42.3 L531.5 42.3 L532.4 42.3 L533.2 42.3 L534.1 42.3 L535.0 42.3 L535.8 42.4 L536.7 42.4 L537.6 42.4 L538.4 42.4 L539.3 42.4 L540.1 42.5 L541.0 42.5 L541.9 42.5 L542.7 42.5 L543.6 42.6 L544.4 42.6 L545.3 42.6 L546.2 42.6 L547.0 42.7 L547.9 42.7 L548.8 42.7 L549.6 42.8 L550.5 42.8 L551.3 42.8 L552.2 42.9 L553.1 42.9 L553.9 42.9 L554.8 43.0 L555.7 43.0 L556.5 43.1 L557.4 43.1 L558.2 43.2 L559.1 43.2 L560.0 43.2 L560.8 43.3 L561.7 43.3 L562.6 43.4 L563.4 43.4 L564.3 43.5 L565.1 43.5 L566.0 43.6 L566.9 43.6 L567.7 43.7 L568.6 43.7 L569.5 43.8 L570.3 43.8 L571.2 43.9 L572.0 44.0 L572.9 44.0 L573.8 44.1 L574.6 44.1 L575.5 44.2 L576.4 44.3 L577.2 44.3 L578.1 44.4 L578.9 44.5 L579.8 44.5 L580.7 44.6 L581.5 44.7 L582.4 44.7 L583.3 44.8 L584.1 44.9 L585.0 44.9 L585.8 45.0 L586.7 45.1 L587.6 45.1 L588.4 45.2 L589.3 45.3 L590.2 45.4 L591.0 45.4 L591.9 45.5 L592.7 45.6 L593.6 45.7 L594.5 45.8 L595.3 45.8 L596.2 45.9 L597.1 46.0 L597.9 46.1 L598.8 46.2 L599.6 46.3 L600.5 46.3 L601.4 46.4 L602.2 46.5 L603.1 46.6 L604.0 46.7 L604.8 46.8 L605.7 46.9 L606.5 47.0 L607.4 47.1 L608.3 47.2 L609.1 47.3 L610.0 47.3 L610.8 47.4 L611.7 47.5 L612.6 47.6 L613.4 47.7 L614.3 47.8 L615.2 47.9 L616.0 48.0 L616.9 48.1 L617.7 48.2 L618.6 48.3 L619.5 48.4 L620.3 48.5 L621.2 48.7 L622.1 48.8 L622.9 48.9 L623.8 49.0 L624.6 49.1 L625.5 49.2 L626.4 49.3 L627.2 49.4 L628.1 49.5 L629.0 49.6 L629.8 49.7 L630.7 49.9 L631.5 50.0 L632.4 50.1 L633.3 50.2 L634.1 50.3 L635.0 50.4 L635.9 50.6 L636.7 50.7 L637.6 50.8 L638.4 50.9 L639.3 51.0 L640.2 51.2 L641.0 51.3 L641.9 51.4 L642.8 51.5 L643.6 51.7 L644.5 51.8 L645.3 51.9 L646.2 52.0 L647.1 52.2 L647.9 52.3 L648.8 52.4 L649.7 52.6 L650.5 52.7 L651.4 52.8 L652.2 53.0 L653.1 53.1 L654.0 53.2 L654.8 53.4 L655.7 53.5 L656.6 53.6 L657.4 53.8 L658.3 53.9 L659.1 54.1 L660.0 54.2 L660.9 54.3 L661.7 54.5 L662.6 54.6 L663.5 54.8 L664.3 54.9 L665.2 55.0 L666.0 55.2 L666.9 55.3 L667.8 55.5 L668.6 55.6 L669.5 55.8 L670.4 55.9 L671.2 56.1 L672.1 56.2 L672.9 56.4 L673.8 56.5 L674.7 56.7 L675.5 56.8 L676.4 57.0 L677.2 57.1 L678.1 57.3 L679.0 57.5 L679.8 57.6 L680.7 57.8 L681.6 57.9 L682.4 58.1 L683.3 58.2 L684.1 58.4 L685.0 58.6 L685.9 58.7 L686.7 58.9 L687.6 59.1 L688.5 59.2 L689.3 59.4 L690.2 59.6 L691.0 59.7 L691.9 59.9 L692.8 60.1 L693.6 60.2 L694.5 60.4 L695.4 60.6 L696.2 60.7 L697.1 60.9 L697.9 61.1 L698.8 61.3 L699.7 61.4 L700.5 61.6 L701.4 61.8 L702.3 62.0 L703.1 62.1 L704.0 62.3 L704.8 62.5 L705.7 62.7 L706.6 62.8 L707.4 63.0 L708.3 63.2 L709.2 63.4 L710.0 63.6 L710.9 63.8 L711.7 63.9 L712.6 64.1 L713.5 64.3 L714.3 64.5 L715.2 64.7 L716.1 64.9 L716.9 65.1 L717.8 65.3 L718.6 65.4 L719.5 65.6 L720.4 65.8 L721.2 66.0 L722.1 66.2 L723.0 66.4 L723.8 66.6 L724.7 66.8 L725.5 67.0 L726.4 67.2 L727.3 67.4 L728.1 67.6 L729.0 67.8 L729.9 68.0 L730.7 68.2 L731.6 68.4 L732.4 68.6 L733.3 68.8 L734.2 69.0 L735.0 69.2 L735.9 69.4 L736.8 69.6 L737.6 69.8 L738.5 70.0 L739.3 70.3 L740.2 70.5 L741.1 70.7 L741.9 70.9 L742.8 71.1 L743.6 71.3 L744.5 71.5 L745.4 71.7 L746.2 72.0 L747.1 72.2 L748.0 72.4 L748.8 72.6 L749.7 72.8 L750.5 73.0 L751.4 73.3 L752.3 73.5 L753.1 73.7 L754.0 73.9 L754.9 74.1 L755.7 74.4 L756.6 74.6 L757.4 74.8 L758.3 75.0 L759.2 75.3 L760.0 75.5 L760.9 75.7 L761.8 76.0 L762.6 76.2 L763.5 76.4 L764.3 76.7 L765.2 76.9 L766.1 77.1 L766.9 77.4 L767.8 77.6 L768.7 77.8 L769.5 78.1 L770.4 78.3 L771.2 78.5 L772.1 78.8 L773.0 79.0 L773.8 79.3 L774.7 79.5 L775.6 79.7 L776.4 80.0 L777.3 80.2 L778.1 80.5 L779.0 80.7 L779.9 81.0 L780.7 81.2 L781.6 81.5 L782.5 81.7 L783.3 82.0 L784.2 82.2 L785.0 82.5 L785.9 82.7 L786.8 83.0 L787.6 83.2 L788.5 83.5 L789.4 83.7 L790.2 84.0 L791.1 84.3 L791.9 84.5 L792.8 84.8 L793.7 85.0 L794.5 85.3 L795.4 85.6 L796.3 85.8 L797.1 86.1 L798.0 86.4 L798.8 86.6 L799.7 86.9 L800.6 87.2 L801.4 87.4 L802.3 87.7 L803.1 88.0 L804.0 88.2 L804.9 88.5 L805.7 88.8 L806.6 89.1 L807.5 89.3 L808.3 89.6 L809.2 89.9 L810.0 90.2 L810.9 90.5 L811.8 90.7 L812.6 91.0 L813.5 91.3 L814.4 91.6 L815.2 91.9 L816.1 92.2 L816.9 92.4 L817.8 92.7 L818.7 93.0 L819.5 93.3 L820.4 93.6 L821.3 93.9 L822.1 94.2 L823.0 94.5 L823.8 94.8 L824.7 95.1 L825.6 95.4 L826.4 95.7 L827.3 96.0 L828.2 96.3 L829.0 96.6 L829.9 96.9 L830.7 97.2 L831.6 97.5 L832.5 97.8 L833.3 98.1 L834.2 98.4 L835.1 98.7 L835.9 99.0 L836.8 99.3 L837.6 99.6 L838.5 99.9 L839.4 100.2 L840.2 100.6 L841.1 100.9 L842.0 101.2 L842.8 101.5 L843.7 101.8 L844.5 102.1 L845.4 102.5 L846.3 102.8 L847.1 103.1 L848.0 103.4 L848.9 103.8 L849.7 104.1 L850.6 104.4 L851.4 104.7 L852.3 105.1 L853.2 105.4 L854.0 105.7 L854.9 106.1 L855.8 106.4 L856.6 106.7 L857.5 107.1 L858.3 107.4 L859.2 107.7 L860.1 108.1 L860.9 108.4 L861.8 108.8 L862.7 109.1 L863.5 109.5 L864.4 109.8 L865.2 110.2 L866.1 110.5 L867.0 110.9 L867.8 111.2 L868.7 111.6 L869.5 111.9 L870.4 112.3 L871.3 112.6 L872.1 113.0 L873.0 113.3 L873.9 113.7 L874.7 114.1 L875.6 114.4 L876.4 114.8 L877.3 115.2 L878.2 115.5 L879.0 115.9 L879.9 116.3 L880.8 116.6 L881.6 117.0 L882.5 117.4 L883.3 117.8 L884.2 118.1 L885.1 118.5 L885.9 118.9 L886.8 119.3 L887.7 119.7 L888.5 120.1 L889.4 120.4 L890.2 120.8 L891.1 121.2 L892.0 121.6 L892.8 122.0 L893.7 122.4 L894.6 122.8 L895.4 123.2 L896.3 123.6 L897.1 124.0 L898.0 124.4 L898.9 124.8 L899.7 125.2 L900.6 125.6 L901.5 126.0 L902.3 126.4 L903.2 126.8 L904.0 127.2 L904.9 127.7 L905.8 128.1 L906.6 128.5 L907.5 128.9 L908.4 129.3 L909.2 129.8 L910.1 130.2 L910.9 130.6 L911.8 131.0 L912.7 131.5 L913.5 131.9 L914.4 132.3 L915.3 132.8 L916.1 133.2 L917.0 133.6 L917.8 134.1 L918.7 134.5 L919.6 135.0 L920.4 135.4 L921.3 135.9 L922.2 136.3 L923.0 136.8 L923.9 137.2 L924.7 137.7 L925.6 138.1 L926.5 138.6 L927.3 139.1 L928.2 139.5 L929.1 140.0 L929.9 140.5 L930.8 140.9 L931.6 141.4 L932.5 141.9 L933.4 142.4 L934.2 142.8 L935.1 143.3 L935.9 143.8 L936.8 144.3 L937.7 144.8 L938.5 145.3 L939.4 145.8 L940.3 146.3 L941.1 146.8 L942.0 147.3 L942.8 147.8 L943.7 148.3 L944.6 148.8 L945.4 149.3 L946.3 149.8 L947.2 150.3 L948.0 150.8 L948.9 151.3 L949.7 151.9 L950.6 152.4 L951.5 152.9 L952.3 153.4 L953.2 154.0 L954.1 154.5 L954.9 155.0 L955.8 155.6 L956.6 156.1 L957.5 156.7 L958.4 157.2 L959.2 157.8 L960.1 158.3 L961.0 158.9 L961.8 159.4 L962.7 160.0 L963.5 160.6 L964.4 161.1 L965.3 161.7 L966.1 162.3 L967.0 162.9 L967.9 163.4 L968.7 164.0 L969.6 164.6 L970.4 165.2 L971.3 165.8 L972.2 166.4 L973.0 167.0 L973.9 167.6 L974.8 168.2 L975.6 168.8 L976.5 169.4 L977.3 170.0 L978.2 170.7 L979.1 171.3 L979.9 171.9 L980.8 172.6 L981.7 173.2 L982.5 173.8 L983.4 174.5 L984.2 175.1 L985.1 175.8 L986.0 176.4 L986.8 177.1 L987.7 177.7 L988.6 178.4 L989.4 179.1 L990.3 179.8 L991.1 180.4 L992.0 181.1 L992.9 181.8 L993.7 182.5 L994.6 183.2 L995.5 183.9 L996.3 184.6 L997.2 185.3 L998.0 186.0 L998.9 186.7 L999.8 187.5 L1000.6 188.2 L1001.5 188.9 L1002.3 189.7 L1003.2 190.4 L1004.1 191.2 L1004.9 191.9 L1005.8 192.7 L1006.7 193.5 L1007.5 194.2 L1008.4 195.0 L1009.2 195.8 L1010.1 196.6 L1011.0 197.4 L1011.8 198.2 L1012.7 199.0 L1013.6 199.8 L1014.4 200.6 L1015.3 201.4 L1016.1 202.3 L1017.0 203.1 L1017.9 203.9 L1018.7 204.8 L1019.6 205.7 L1020.2 206.2 L1021.3 207.4 L1022.2 208.3 L1023.0 209.2 L1023.9 210.1 L1024.8 211.0 L1025.6 211.9 L1026.5 212.8 L1027.4 213.7 L1028.2 214.6 L1029.1 215.6 L1029.9 216.5 L1030.8 217.5 L1031.7 218.4 L1032.5 219.4 L1033.4 220.4 L1034.3 221.4 L1035.1 222.4 L1035.8 223.2 L1036.8 224.4 L1037.7 225.5 L1038.6 226.5 L1039.4 227.6 L1040.3 228.6 L1041.2 229.7 L1042.0 230.8 L1042.9 231.9 L1043.7 233.0 L1044.6 234.1 L1044.9 234.5 L1045.5 235.2 L1046.3 236.4 L1047.2 237.5 L1048.1 238.7 L1048.9 239.9 L1049.8 241.1 L1050.6 242.3 L1051.5 243.5 L1052.4 244.7 L1053.1 245.8 L1054.1 247.2 L1055.0 248.5 L1055.8 249.8 L1056.7 251.1 L1057.5 252.5 L1058.4 253.8 L1059.3 255.2 L1060.1 256.6 L1060.4 257.0 L1061.0 258.0 L1061.8 259.4 L1062.7 260.8 L1063.6 262.3 L1064.4 263.7 L1065.3 265.2 L1066.2 266.8 L1067.0 268.2 L1067.9 269.9 L1068.7 271.5 L1069.6 273.1 L1070.0 273.8 L1070.5 274.7 L1071.3 276.4 L1072.2 278.1 L1072.8 279.4 L1073.1 279.8 L1073.9 281.6 L1074.8 283.3 L1075.5 284.9 L1076.5 287.0 L1077.4 288.9 L1078.1 290.5 L1079.1 292.7 L1080.0 294.7 L1080.5 296.0 L1080.8 296.7 L1081.7 298.8 L1082.5 300.9 L1082.8 301.6 L1083.4 303.1 L1084.3 305.2 L1085.0 307.1 L1086.0 309.8 L1086.9 312.1 L1087.1 312.7 L1087.7 314.5 L1088.6 317.0 L1089.0 318.2 L1089.4 319.5 L1090.3 322.1 L1090.8 323.7 L1091.2 324.7 L1092.0 327.4 L1092.6 329.3 L1092.9 330.2 L1093.8 333.1 L1094.2 334.8 L1094.6 336.1 L1095.5 339.1 L1095.8 340.3 L1096.3 342.2 L1097.2 345.5 L1098.1 348.8 L1098.7 351.3 L1098.9 352.3 L1099.8 355.8 L1100.0 356.8 L1100.7 359.5 L1101.3 362.3 L1101.5 363.4 L1102.4 367.4 L1103.2 371.5 L1103.6 373.3 L1104.1 375.8 L1104.7 378.8 L1105.0 380.4 L1105.7 384.3 L1105.8 385.1 L1106.6 389.8 L1107.5 395.2 L1108.4 400.7 L1109.2 406.2 L1110.0 411.7 L1110.1 412.8 L1110.7 417.1 L1111.0 419.4 L1111.4 422.6 L1111.9 426.5 L1112.0 428.1 L1112.7 433.5 L1112.7 434.1 L1113.3 439.0 L1113.6 442.3 L1113.8 444.5 L1114.3 449.9 L1114.5 451.3 L1114.8 455.4 L1115.3 460.9 L1115.7 466.3 L1116.2 471.8 L1116.6 477.2 L1116.9 482.7 L1117.0 484.2 L1117.3 488.1 L1117.6 493.6 L1117.9 498.1 L1118.0 499.0 L1118.3 504.5 L1118.5 509.9 L1118.8 514.3 L1118.8 515.4 L1119.1 520.8 L1119.3 526.3 L1119.5 531.7 L1119.6 533.7 L1119.8 537.2 L1120.0 542.6 L1120.2 548.0 L1120.4 553.5 L1120.5 557.7 L1120.5 558.9 L1120.7 564.4 L1120.9 569.8 L1121.0 575.2 L1121.1 580.7 L1121.3 586.1 L1121.4 589.4 L1121.4 591.6 L1121.5 597.0 L1121.6 602.4 L1121.7 607.9 L1121.8 613.3 L1121.9 618.8 L1122.0 624.2 L1122.1 629.6 L1122.2 635.1 L1122.2 636.2 L1122.3 640.5 L1122.3 645.9 L1122.4 651.4 L1122.5 656.8 L1122.5 662.3 L1122.6 667.7 L1122.7 673.1 L1122.7 678.6 L1122.8 684.0 L1122.8 689.4 L1122.9 694.9 L1122.9 700.3 L1122.9 705.7 L1123.0 711.2 L1123.0 716.6 L1123.0 722.0 L1123.1 727.5 L1123.1 732.9 L1123.1 738.3 L1123.2 743.8 L1123.2 749.2 L1123.2 754.6 L1123.2 760.1 L1123.3 765.5 L1123.3 770.9 L1123.3 776.4 L1123.3 781.8 L1123.3 787.2 L1123.4 792.7 L1123.4 798.1 L1123.4 803.5 L1123.4 809.0 L1123.4 814.4 L1123.4 819.8 L1123.4 825.3 L1123.4 830.7 L1123.5 836.1 L1123.5 841.6 L1123.5 847.0 L1123.5 848.0 L1123.8 847.0 L1123.8 841.6 L1123.8 836.2 L1123.8 830.7 L1123.9 825.3 L1123.9 819.9 L1123.9 814.4 L1123.9 809.0 L1123.9 803.6 L1123.9 798.1 L1123.9 794.8 L1123.9 792.7 L1124.0 787.3 L1124.0 781.8 L1124.0 776.4 L1124.0 771.0 L1124.0 765.6 L1124.1 760.1 L1124.1 754.7 L1124.1 749.3 L1124.1 743.8 L1124.2 738.4 L1124.2 733.0 L1124.2 727.5 L1124.3 722.1 L1124.3 716.7 L1124.3 711.2 L1124.4 705.8 L1124.4 700.4 L1124.4 695.0 L1124.5 689.5 L1124.5 684.1 L1124.6 678.7 L1124.6 673.2 L1124.7 667.8 L1124.8 662.4 L1124.8 658.0 L1124.8 656.9 L1124.9 651.5 L1124.9 646.1 L1125.0 640.7 L1125.1 635.2 L1125.2 629.8 L1125.3 624.4 L1125.4 618.9 L1125.5 613.5 L1125.6 608.1 L1125.7 602.7 L1125.8 597.2 L1125.9 591.8 L1126.0 586.4 L1126.2 581.0 L1126.3 575.5 L1126.4 570.1 L1126.5 567.3 L1126.6 564.7 L1126.8 559.3 L1126.9 553.8 L1127.1 548.4 L1127.3 543.0 L1127.4 541.3 L1127.5 537.6 L1127.7 532.2 L1128.0 526.7 L1128.2 521.3 L1128.2 520.7 L1128.5 515.9 L1128.8 510.5 L1129.0 505.1 L1129.1 503.7 L1129.3 499.7 L1129.7 494.2 L1130.0 489.2 L1130.4 483.4 L1130.7 478.0 L1130.8 476.6 L1131.1 472.6 L1131.6 467.2 L1131.7 465.4 L1132.0 461.8 L1132.5 456.4 L1132.6 455.3 L1133.0 451.0 L1133.4 446.2 L1133.5 445.6 L1134.0 440.2 L1134.3 437.9 L1134.6 434.8 L1135.1 430.2 L1135.2 429.4 L1135.9 424.0 L1136.0 423.1 L1136.6 418.6 L1136.9 416.4 L1137.3 413.2 L1137.7 410.2 L1138.1 407.8 L1138.6 404.3 L1138.9 402.4 L1139.5 398.8 L1139.8 397.0 L1140.3 393.6 L1140.7 391.6 L1141.2 388.6 L1141.6 386.3 L1142.0 383.9 L1142.6 380.9 L1142.9 379.4 L1143.7 375.5 L1144.6 371.0 L1144.8 370.1 L1145.5 367.1 L1146.0 364.8 L1146.4 363.3 L1147.2 359.6 L1148.1 356.1 L1148.6 354.1 L1148.9 352.7 L1149.8 349.4 L1150.0 348.7 L1150.7 346.2 L1151.5 343.4 L1152.4 340.2 L1153.0 338.0 L1153.3 337.3 L1154.1 334.5 L1154.7 332.7 L1155.0 331.8 L1155.8 329.2 L1156.4 327.3 L1156.7 326.6 L1157.6 324.1 L1158.3 322.0 L1159.3 319.2 L1160.2 316.9 L1161.0 314.7 L1161.9 312.4 L1162.3 311.4 L1162.7 310.3 L1163.6 308.2 L1164.5 306.1 L1165.3 304.1 L1166.2 302.1 L1166.8 300.8 L1167.1 300.1 L1167.9 298.2 L1168.8 296.4 L1169.2 295.5 L1169.6 294.5 L1170.5 292.8 L1171.4 291.0 L1171.8 290.2 L1172.2 289.3 L1173.1 287.6 L1174.0 285.9 L1174.5 284.9 L1174.8 284.3 L1175.7 282.7 L1176.5 281.1 L1177.3 279.7 L1178.3 278.0 L1179.1 276.5 L1180.0 275.0 L1180.3 274.4 L1180.9 273.6 L1181.7 272.1 L1182.6 270.7 L1183.4 269.3 L1184.3 267.9 L1185.2 266.6 L1186.0 265.3 L1186.9 264.0 L1187.8 262.7 L1188.6 261.4 L1189.5 260.1 L1190.3 258.9 L1191.2 257.7 L1192.1 256.5 L1192.9 255.3 L1193.8 254.1 L1194.2 253.5 L1194.6 252.9 L1195.5 251.8 L1196.4 250.7 L1197.2 249.5 L1198.1 248.4 L1199.0 247.3 L1199.8 246.3 L1200.7 245.2 L1201.5 244.1 L1202.4 243.2 L1203.3 242.1 L1204.1 241.1 L1205.0 240.1 L1205.9 239.1 L1206.7 238.1 L1207.6 237.1 L1208.4 236.1 L1209.3 235.2 L1210.2 234.3 L1211.0 233.3 L1211.5 232.9 L1211.9 232.4 L1212.8 231.5 L1213.6 230.6 L1214.5 229.7 L1215.3 228.8 L1216.2 227.9 L1217.1 227.1 L1217.9 226.2 L1218.8 225.4 L1219.7 224.5 L1220.5 223.7 L1221.4 222.9 L1222.2 222.0 L1223.1 221.2 L1224.0 220.4 L1224.8 219.6 L1225.7 218.8 L1226.6 218.1 L1227.1 217.5 L1228.3 216.5 L1229.1 215.8 L1230.0 215.0 L1230.9 214.3 L1231.7 213.5 L1232.6 212.8 L1233.5 212.1 L1234.3 211.3 L1235.2 210.6 L1236.0 209.9 L1236.9 209.2 L1237.8 208.5 L1238.6 207.8 L1239.5 207.1 L1240.4 206.4 L1241.2 205.8 L1242.1 205.1 L1242.9 204.4 L1243.8 203.8 L1244.7 203.1 L1245.5 202.5 L1246.4 201.8 L1247.3 201.2 L1248.1 200.6 L1249.0 199.9 L1249.8 199.3 L1250.7 198.7 L1251.6 198.1 L1252.4 197.5 L1253.3 196.8 L1254.2 196.2 L1255.0 195.6 L1255.9 195.1 L1256.7 194.5 L1257.6 193.9 L1258.5 193.3 L1259.3 192.7 L1260.2 192.1 L1261.0 191.6 L1261.9 191.0 L1262.8 190.5 L1263.6 189.9 L1264.5 189.3 L1265.4 188.8 L1266.2 188.3 L1267.1 187.7 L1267.9 187.2 L1268.8 186.6 L1269.7 186.1 L1270.5 185.6 L1271.4 185.1 L1272.3 184.5 L1273.1 184.0 L1274.0 183.5 L1274.8 183.0 L1275.7 182.5 L1276.6 182.0 L1277.4 181.5 L1278.3 181.0 L1279.2 180.5 L1280.0 180.0 L1280.9 179.5 L1281.7 179.0 L1282.6 178.5 L1283.5 178.1 L1284.3 177.6 L1285.2 177.1 L1286.1 176.6 L1286.9 176.2 L1287.8 175.7 L1288.6 175.2 L1289.5 174.8 L1290.4 174.3 L1291.2 173.9 L1292.1 173.4 L1293.0 173.0 L1293.8 172.5 L1294.7 172.1 L1295.5 171.6 L1296.4 171.2 L1297.3 170.8 L1298.1 170.3 L1299.0 169.9 L1299.9 169.5 L1300.7 169.1 L1301.6 168.6 L1302.4 168.2 L1303.3 167.8 L1304.2 167.4 L1305.0 167.0 L1305.9 166.6 L1306.8 166.1 L1307.6 165.7 L1308.5 165.3 L1309.3 164.9 L1310.2 164.5 L1311.1 164.1 L1311.9 163.7 L1312.8 163.3 L1313.7 162.9 L1314.5 162.6 L1315.4 162.2 L1316.2 161.8 L1317.1 161.4 L1318.0 161.0 L1318.8 160.6 L1319.7 160.3 L1320.5 159.9 L1321.4 159.5 L1322.3 159.1 L1323.1 158.8 L1324.0 158.4 L1324.9 158.0 L1325.7 157.7 L1326.6 157.3 L1327.4 157.0 L1328.3 156.6 L1329.2 156.2 L1330.0 155.9 L1330.9 155.5 L1331.8 155.2 L1332.6 154.8 L1333.5 154.5 L1334.3 154.1 L1335.2 153.8 L1336.1 153.4 L1336.9 153.1 L1337.8 152.8 L1338.7 152.4 L1339.5 152.1 L1340.4 151.8 L1341.2 151.4 L1342.1 151.1 L1343.0 150.8 L1343.8 150.4 L1344.7 150.1 L1345.6 149.8 L1346.4 149.5 L1347.3 149.1 L1348.1 148.8 L1349.0 148.5 L1349.9 148.2 L1350.7 147.9 L1351.6 147.6 L1352.5 147.2 L1353.3 146.9 L1354.2 146.6 L1355.0 146.3 L1355.9 146.0 L1356.8 145.7 L1357.6 145.4 L1358.5 145.1 L1359.4 144.8 L1360.2 144.5 L1361.1 144.2 L1361.9 143.9 L1362.8 143.6 L1363.7 143.3 L1364.5 143.0 L1365.4 142.7 L1366.3 142.4 L1367.1 142.1 L1368.0 141.8 L1368.8 141.6 L1369.7 141.3 L1370.6 141.0 L1371.4 140.7 L1372.3 140.4 L1373.2 140.1 L1374.0 139.9 L1374.9 139.6 L1375.7 139.3 L1376.6 139.0 L1377.5 138.8 L1378.3 138.5 L1379.2 138.2 L1380.1 137.9 L1380.9 137.7 L1381.8 137.4 L1382.6 137.1 L1383.5 136.9" stroke="#57AC17" stroke-width="7" fill="none" stroke-linejoin="bevel"/><path d="M348.7 184.6 L349.6 182.5 L350.4 180.5 L351.3 178.5 L352.1 176.5 L353.0 174.6 L353.9 172.8 L354.7 171.0 L355.6 169.2 L356.5 167.4 L357.3 165.7 L358.2 164.1 L359.0 162.4 L359.9 160.8 L360.8 159.2 L361.6 157.7 L362.5 156.2 L363.4 154.7 L364.2 153.2 L365.1 151.8 L365.9 150.4 L366.8 149.0 L367.7 147.6 L368.5 146.3 L369.4 145.0 L370.3 143.7 L371.1 142.4 L372.0 141.1 L372.8 139.9 L373.7 138.7 L374.6 137.5 L375.4 136.3 L376.3 135.2 L377.2 134.0 L378.0 132.9 L378.9 131.8 L379.7 130.7 L380.6 129.6 L381.5 128.6 L382.3 127.5 L383.2 126.5 L384.1 125.5 L384.9 124.5 L385.8 123.5 L386.6 122.5 L387.5 121.6 L388.4 120.6 L389.2 119.7 L390.1 118.8 L391.0 117.9 L391.8 117.0 L392.7 116.1 L393.5 115.2 L394.4 114.3 L395.3 113.5 L396.1 112.6 L397.0 111.8 L397.9 111.0 L398.7 110.2 L399.6 109.4 L400.4 108.6 L401.3 107.8 L402.2 107.1 L403.0 106.3 L403.9 105.5 L404.8 104.8 L405.6 104.1 L406.5 103.3 L407.3 102.6 L408.2 101.9 L409.1 101.2 L409.9 100.5 L410.8 99.9 L411.7 99.2 L412.5 98.5 L413.4 97.8 L414.2 97.2 L415.1 96.6 L416.0 95.9 L416.8 95.3 L417.7 94.7 L418.5 94.0 L419.4 93.4 L420.3 92.8 L421.1 92.2 L422.0 91.6 L422.9 91.1 L423.7 90.5 L424.6 89.9 L425.4 89.4 L426.3 88.8 L427.2 88.2 L428.0 87.7 L428.9 87.2 L429.8 86.6 L430.6 86.1 L431.5 85.6 L432.3 85.1 L433.2 84.5 L434.1 84.0 L434.9 83.5 L435.8 83.0 L436.7 82.5 L437.5 82.1 L438.4 81.6 L439.2 81.1 L440.1 80.6 L441.0 80.2 L441.8 79.7 L442.7 79.3 L443.6 78.8 L444.4 78.4 L445.3 77.9 L446.1 77.5 L447.0 77.0 L447.9 76.6 L448.7 76.2 L449.6 75.8 L450.5 75.3 L451.3 74.9 L452.2 74.5 L453.0 74.1 L453.9 73.7 L454.8 73.3 L455.6 72.9 L456.5 72.6 L457.4 72.2 L458.2 71.8 L459.1 71.4 L459.9 71.0 L460.8 70.7 L461.7 70.3 L462.5 69.9 L463.4 69.6 L464.3 69.2 L465.1 68.9 L466.0 68.5 L466.8 68.2 L467.7 67.9 L468.6 67.5 L469.4 67.2 L470.3 66.9 L471.2 66.5 L472.0 66.2 L472.9 65.9 L473.7 65.6 L474.6 65.3 L475.5 64.9 L476.3 64.6 L477.2 64.3 L478.0 64.0 L478.9 63.7 L479.8 63.4 L480.6 63.1 L481.5 62.9 L482.4 62.6 L483.2 62.3 L484.1 62.0 L484.9 61.7 L485.8 61.5 L486.7 61.2 L487.5 60.9 L488.4 60.6 L489.3 60.4 L490.1 60.1 L491.0 59.9 L491.8 59.6 L492.7 59.4 L493.6 59.1 L494.4 58.9 L495.3 58.6 L496.2 58.4 L497.0 58.1 L497.9 57.9 L498.7 57.7 L499.6 57.4 L500.5 57.2 L501.3 57.0 L502.2 56.7 L503.1 56.5 L503.9 56.3 L504.8 56.1 L505.6 55.9 L506.5 55.6 L507.4 55.4 L508.2 55.2 L509.1 55.0 L510.0 54.8 L510.8 54.6 L511.7 54.4 L512.5 54.2 L513.4 54.0 L514.3 53.8 L515.1 53.6 L516.0 53.4 L516.9 53.2 L517.7 53.1 L518.6 52.9 L519.4 52.7 L520.3 52.5 L521.2 52.3 L522.0 52.2 L522.9 52.0 L523.8 51.8 L524.6 51.6 L525.5 51.5 L526.3 51.3 L527.2 51.1 L528.1 51.0 L528.9 50.8 L529.8 50.7 L530.7 50.5 L531.5 50.3 L532.4 50.2 L533.2 50.0 L534.1 49.9 L535.0 49.7 L535.8 49.6 L536.7 49.5 L537.6 49.3 L538.4 49.2 L539.3 49.0 L540.1 48.9 L541.0 48.8 L541.9 48.6 L542.7 48.5 L543.6 48.4 L544.4 48.2 L545.3 48.1 L546.2 48.0 L547.0 47.9 L547.9 47.7 L548.8 47.6 L549.6 47.5 L550.5 47.4 L551.3 47.3 L552.2 47.1 L553.1 47.0 L553.9 46.9 L554.8 46.8 L555.7 46.7 L556.5 46.6 L557.4 46.5 L558.2 46.4 L559.1 46.3 L560.0 46.2 L560.8 46.1 L561.7 46.0 L562.6 45.9 L563.4 45.8 L564.3 45.7 L565.1 45.6 L566.0 45.5 L566.9 45.4 L567.7 45.3 L568.6 45.3 L569.5 45.2 L570.3 45.1 L571.2 45.0 L572.0 44.9 L572.9 44.8 L573.8 44.8 L574.6 44.7 L575.5 44.6 L576.4 44.5 L577.2 44.5 L578.1 44.4 L578.9 44.3 L579.8 44.2 L580.7 44.2 L581.5 44.1 L582.4 44.0 L583.3 44.0 L584.1 43.9 L585.0 43.9 L585.8 43.8 L586.7 43.7 L587.6 43.7 L588.4 43.6 L589.3 43.6 L590.2 43.5 L591.0 43.5 L591.9 43.4 L592.7 43.4 L593.6 43.3 L594.5 43.3 L595.3 43.2 L596.2 43.2 L597.1 43.1 L597.9 43.1 L598.8 43.0 L599.6 43.0 L600.5 43.0 L601.4 42.9 L602.2 42.9 L603.1 42.8 L604.0 42.8 L604.8 42.8 L605.7 42.7 L606.5 42.7 L607.4 42.7 L608.3 42.6 L609.1 42.6 L610.0 42.6 L610.8 42.6 L611.7 42.5 L612.6 42.5 L613.4 42.5 L614.3 42.5 L615.2 42.4 L616.0 42.4 L616.9 42.4 L617.7 42.4 L618.6 42.4 L619.5 42.3 L620.3 42.3 L621.2 42.3 L622.1 42.3 L622.9 42.3 L623.8 42.3 L624.6 42.3 L625.5 42.2 L626.4 42.2 L627.2 42.2 L628.1 42.2 L629.0 42.2 L629.8 42.2 L630.7 42.2 L631.5 42.2 L632.4 42.2 L633.3 42.2 L634.1 42.2 L635.0 42.2 L635.9 42.2 L636.7 42.2 L637.6 42.2 L638.4 42.2 L639.3 42.2 L640.2 42.2 L641.0 42.2 L641.9 42.2 L642.8 42.2 L643.6 42.3 L644.5 42.3 L645.3 42.3 L646.2 42.3 L647.1 42.3 L647.9 42.3 L648.8 42.3 L649.7 42.3 L650.5 42.4 L651.4 42.4 L652.2 42.4 L653.1 42.4 L654.0 42.4 L654.8 42.5 L655.7 42.5 L656.6 42.5 L657.4 42.5 L658.3 42.6 L659.1 42.6 L660.0 42.6 L660.9 42.6 L661.7 42.7 L662.6 42.7 L663.5 42.7 L664.3 42.7 L665.2 42.8 L666.0 42.8 L666.9 42.8 L667.8 42.9 L668.6 42.9 L669.5 42.9 L670.4 43.0 L671.2 43.0 L672.1 43.0 L672.9 43.1 L673.8 43.1 L674.7 43.2 L675.5 43.2 L676.4 43.2 L677.2 43.3 L678.1 43.3 L679.0 43.4 L679.8 43.4 L680.7 43.5 L681.6 43.5 L682.4 43.6 L683.3 43.6 L684.1 43.7 L685.0 43.7 L685.9 43.7 L686.7 43.8 L687.6 43.8 L688.5 43.9 L689.3 44.0 L690.2 44.0 L691.0 44.1 L691.9 44.1 L692.8 44.2 L693.6 44.2 L694.5 44.3 L695.4 44.3 L696.2 44.4 L697.1 44.5 L697.9 44.5 L698.8 44.6 L699.7 44.6 L700.5 44.7 L701.4 44.8 L702.3 44.8 L703.1 44.9 L704.0 45.0 L704.8 45.0 L705.7 45.1 L706.6 45.1 L707.4 45.2 L708.3 45.3 L709.2 45.4 L710.0 45.4 L710.9 45.5 L711.7 45.6 L712.6 45.6 L713.5 45.7 L714.3 45.8 L715.2 45.9 L716.1 45.9 L716.9 46.0 L717.8 46.1 L718.6 46.2 L719.5 46.2 L720.4 46.3 L721.2 46.4 L722.1 46.5 L723.0 46.5 L723.8 46.6 L724.7 46.7 L725.5 46.8 L726.4 46.9 L727.3 46.9 L728.1 47.0 L729.0 47.1 L729.9 47.2 L730.7 47.3 L731.6 47.4 L732.4 47.5 L733.3 47.5 L734.2 47.6 L735.0 47.7 L735.9 47.8 L736.8 47.9 L737.6 48.0 L738.5 48.1 L739.3 48.2 L740.2 48.3 L741.1 48.4 L741.9 48.5 L742.8 48.5 L743.6 48.6 L744.5 48.7 L745.4 48.8 L746.2 48.9 L747.1 49.0 L748.0 49.1 L748.8 49.2 L749.7 49.3 L750.5 49.4 L751.4 49.5 L752.3 49.6 L753.1 49.7 L754.0 49.8 L754.9 49.9 L755.7 50.0 L756.6 50.1 L757.4 50.2 L758.3 50.3 L759.2 50.5 L760.0 50.6 L760.9 50.7 L761.8 50.8 L762.6 50.9 L763.5 51.0 L764.3 51.1 L765.2 51.2 L766.1 51.3 L766.9 51.4 L767.8 51.5 L768.7 51.7 L769.5 51.8 L770.4 51.9 L771.2 52.0 L772.1 52.1 L773.0 52.2 L773.8 52.3 L774.7 52.5 L775.6 52.6 L776.4 52.7 L777.3 52.8 L778.1 52.9 L779.0 53.1 L779.9 53.2 L780.7 53.3 L781.6 53.4 L782.5 53.5 L783.3 53.7 L784.2 53.8 L785.0 53.9 L785.9 54.0 L786.8 54.2 L787.6 54.3 L788.5 54.4 L789.4 54.5 L790.2 54.7 L791.1 54.8 L791.9 54.9 L792.8 55.0 L793.7 55.2 L794.5 55.3 L795.4 55.4 L796.3 55.6 L797.1 55.7 L798.0 55.8 L798.8 56.0 L799.7 56.1 L800.6 56.2 L801.4 56.4 L802.3 56.5 L803.1 56.6 L804.0 56.8 L804.9 56.9 L805.7 57.0 L806.6 57.2 L807.5 57.3 L808.3 57.5 L809.2 57.6 L810.0 57.7 L810.9 57.9 L811.8 58.0 L812.6 58.2 L813.5 58.3 L814.4 58.5 L815.2 58.6 L816.1 58.7 L816.9 58.9 L817.8 59.0 L818.7 59.2 L819.5 59.3 L820.4 59.5 L821.3 59.6 L822.1 59.8 L823.0 59.9 L823.8 60.1 L824.7 60.2 L825.6 60.4 L826.4 60.5 L827.3 60.7 L828.2 60.8 L829.0 61.0 L829.9 61.1 L830.7 61.3 L831.6 61.4 L832.5 61.6 L833.3 61.8 L834.2 61.9 L835.1 62.1 L835.9 62.2 L836.8 62.4 L837.6 62.5 L838.5 62.7 L839.4 62.9 L840.2 63.0 L841.1 63.2 L842.0 63.3 L842.8 63.5 L843.7 63.7 L844.5 63.8 L845.4 64.0 L846.3 64.2 L847.1 64.3 L848.0 64.5 L848.9 64.7 L849.7 64.8 L850.6 65.0 L851.4 65.2 L852.3 65.3 L853.2 65.5 L854.0 65.7 L854.9 65.8 L855.8 66.0 L856.6 66.2 L857.5 66.4 L858.3 66.5 L859.2 66.7 L860.1 66.9 L860.9 67.1 L861.8 67.2 L862.7 67.4 L863.5 67.6 L864.4 67.8 L865.2 67.9 L866.1 68.1 L867.0 68.3 L867.8 68.5 L868.7 68.7 L869.5 68.8 L870.4 69.0 L871.3 69.2 L872.1 69.4 L873.0 69.6 L873.9 69.7 L874.7 69.9 L875.6 70.1 L876.4 70.3 L877.3 70.5 L878.2 70.7 L879.0 70.9 L879.9 71.1 L880.8 71.2 L881.6 71.4 L882.5 71.6 L883.3 71.8 L884.2 72.0 L885.1 72.2 L885.9 72.4 L886.8 72.6 L887.7 72.8 L888.5 73.0 L889.4 73.2 L890.2 73.4 L891.1 73.6 L892.0 73.7 L892.8 73.9 L893.7 74.1 L894.6 74.3 L895.4 74.5 L896.3 74.7 L897.1 74.9 L898.0 75.1 L898.9 75.3 L899.7 75.5 L900.6 75.7 L901.5 76.0 L902.3 76.2 L903.2 76.4 L904.0 76.6 L904.9 76.8 L905.8 77.0 L906.6 77.2 L907.5 77.4 L908.4 77.6 L909.2 77.8 L910.1 78.0 L910.9 78.2 L911.8 78.4 L912.7 78.7 L913.5 78.9 L914.4 79.1 L915.3 79.3 L916.1 79.5 L917.0 79.7 L917.8 79.9 L918.7 80.2 L919.6 80.4 L920.4 80.6 L921.3 80.8 L922.2 81.0 L923.0 81.3 L923.9 81.5 L924.7 81.7 L925.6 81.9 L926.5 82.1 L927.3 82.4 L928.2 82.6 L929.1 82.8 L929.9 83.0 L930.8 83.3 L931.6 83.5 L932.5 83.7 L933.4 83.9 L934.2 84.2 L935.1 84.4 L935.9 84.6 L936.8 84.9 L937.7 85.1 L938.5 85.3 L939.4 85.6 L940.3 85.8 L941.1 86.0 L942.0 86.3 L942.8 86.5 L943.7 86.7 L944.6 87.0 L945.4 87.2 L946.3 87.5 L947.2 87.7 L948.0 87.9 L948.9 88.2 L949.7 88.4 L950.6 88.7 L951.5 88.9 L952.3 89.1 L953.2 89.4 L954.1 89.6 L954.9 89.9 L955.8 90.1 L956.6 90.4 L957.5 90.6 L958.4 90.9 L959.2 91.1 L960.1 91.4 L961.0 91.6 L961.8 91.9 L962.7 92.1 L963.5 92.4 L964.4 92.6 L965.3 92.9 L966.1 93.2 L967.0 93.4 L967.9 93.7 L968.7 93.9 L969.6 94.2 L970.4 94.5 L971.3 94.7 L972.2 95.0 L973.0 95.2 L973.9 95.5 L974.8 95.8 L975.6 96.0 L976.5 96.3 L977.3 96.6 L978.2 96.8 L979.1 97.1 L979.9 97.4 L980.8 97.6 L981.7 97.9 L982.5 98.2 L983.4 98.5 L984.2 98.7 L985.1 99.0 L986.0 99.3 L986.8 99.6 L987.7 99.8 L988.6 100.1 L989.4 100.4 L990.3 100.7 L991.1 101.0 L992.0 101.2 L992.9 101.5 L993.7 101.8 L994.6 102.1 L995.5 102.4 L996.3 102.7 L997.2 102.9 L998.0 103.2 L998.9 103.5 L999.8 103.8 L1000.6 104.1 L1001.5 104.4 L1002.3 104.7 L1003.2 105.0 L1004.1 105.3 L1004.9 105.6 L1005.8 105.9 L1006.7 106.2 L1007.5 106.5 L1008.4 106.8 L1009.2 107.1 L1010.1 107.4 L1011.0 107.7 L1011.8 108.0 L1012.7 108.3 L1013.6 108.6 L1014.4 108.9 L1015.3 109.2 L1016.1 109.5 L1017.0 109.8 L1017.9 110.1 L1018.7 110.4 L1019.6 110.8 L1020.5 111.1 L1021.3 111.4 L1022.2 111.7 L1023.0 112.0 L1023.9 112.3 L1024.8 112.7 L1025.6 113.0 L1026.5 113.3 L1027.4 113.6 L1028.2 113.9 L1029.1 114.3 L1029.9 114.6 L1030.8 114.9 L1031.7 115.2 L1032.5 115.6 L1033.4 115.9 L1034.3 116.2 L1035.1 116.6 L1036.0 116.9 L1036.8 117.2 L1037.7 117.6 L1038.6 117.9 L1039.4 118.2 L1040.3 118.6 L1041.2 118.9 L1042.0 119.3 L1042.9 119.6 L1043.7 120.0 L1044.6 120.3 L1045.5 120.7 L1046.3 121.0 L1047.2 121.3 L1048.1 121.7 L1048.9 122.0 L1049.8 122.4 L1050.6 122.8 L1051.5 123.1 L1052.4 123.5 L1053.2 123.8 L1054.1 124.2 L1055.0 124.5 L1055.8 124.9 L1056.7 125.3 L1057.5 125.6 L1058.4 126.0 L1059.3 126.4 L1060.1 126.7 L1061.0 127.1 L1061.8 127.5 L1062.7 127.9 L1063.6 128.2 L1064.4 128.6 L1065.3 129.0 L1066.2 129.4 L1067.0 129.7 L1067.9 130.1 L1068.7 130.5 L1069.6 130.9 L1070.5 131.3 L1071.3 131.7 L1072.2 132.0 L1073.1 132.4 L1073.9 132.8 L1074.8 133.2 L1075.6 133.6 L1076.5 134.0 L1077.4 134.4 L1078.2 134.8 L1079.1 135.2 L1080.0 135.6 L1080.8 136.0 L1081.7 136.4 L1082.5 136.8 L1083.4 137.2 L1084.3 137.6 L1085.1 138.1 L1086.0 138.5 L1086.9 138.9 L1087.7 139.3 L1088.6 139.7 L1089.4 140.1 L1090.3 140.6 L1091.2 141.0 L1092.0 141.4 L1092.9 141.8 L1093.8 142.3 L1094.6 142.7 L1095.5 143.1 L1096.3 143.6 L1097.2 144.0 L1098.1 144.4 L1098.9 144.9 L1099.8 145.3 L1100.7 145.8 L1101.5 146.2 L1102.4 146.7 L1103.2 147.1 L1104.1 147.6 L1105.0 148.0 L1105.8 148.5 L1106.7 148.9 L1107.6 149.4 L1108.4 149.9 L1109.3 150.3 L1110.1 150.8 L1111.0 151.3 L1111.9 151.7 L1112.7 152.2 L1113.6 152.7 L1114.5 153.1 L1115.3 153.6 L1116.2 154.1 L1117.0 154.6 L1117.9 155.1 L1118.8 155.6 L1119.6 156.0 L1120.5 156.5 L1121.4 157.0 L1122.2 157.5 L1123.1 158.0 L1123.9 158.5 L1124.8 159.0 L1125.7 159.5 L1126.5 160.0 L1127.4 160.6 L1128.2 161.1 L1129.1 161.6 L1130.0 162.1 L1130.8 162.6 L1131.7 163.1 L1132.6 163.7 L1133.4 164.2 L1134.3 164.7 L1135.1 165.3 L1136.0 165.8 L1136.9 166.3 L1137.7 166.9 L1138.6 167.4 L1139.5 168.0 L1140.3 168.5 L1141.2 169.1 L1142.0 169.6 L1142.9 170.2 L1143.8 170.8 L1144.6 171.3 L1145.5 171.9 L1146.4 172.5 L1147.2 173.0 L1148.1 173.6 L1148.9 174.2 L1149.8 174.8 L1150.7 175.4 L1151.5 176.0 L1152.4 176.5 L1153.3 177.1 L1154.1 177.7 L1155.0 178.3 L1155.8 179.0 L1156.7 179.6 L1157.6 180.2 L1158.4 180.8 L1159.3 181.4 L1160.2 182.0 L1161.0 182.7 L1161.9 183.3 L1162.7 183.9 L1163.6 184.6 L1164.5 185.2 L1165.3 185.9 L1166.2 186.5 L1167.1 187.2 L1167.9 187.8 L1168.8 188.5 L1169.6 189.2 L1170.5 189.8 L1171.4 190.5 L1172.2 191.2 L1173.1 191.9 L1174.0 192.6 L1174.8 193.2 L1175.7 193.9 L1176.5 194.6 L1177.4 195.3 L1178.3 196.1 L1179.1 196.8 L1180.0 197.5 L1180.9 198.2 L1181.7 198.9 L1182.6 199.7 L1183.4 200.4 L1184.3 201.2 L1185.2 201.9 L1186.0 202.7 L1186.9 203.4 L1187.8 204.2 L1188.6 205.0 L1189.5 205.8 L1190.3 206.5 L1191.2 207.3 L1192.1 208.1 L1192.9 208.9 L1193.8 209.7 L1194.6 210.5 L1195.5 211.4 L1196.4 212.2 L1197.2 213.0 L1198.1 213.9 L1199.0 214.7 L1199.8 215.6 L1200.7 216.4 L1201.5 217.3 L1202.4 218.1 L1203.3 219.0 L1204.1 219.9 L1205.0 220.8 L1205.9 221.7 L1206.7 222.6 L1207.2 223.1 L1207.6 223.5 L1208.4 224.5 L1209.3 225.4 L1210.2 226.3 L1211.0 227.3 L1211.9 228.2 L1212.4 228.8 L1212.8 229.2 L1213.6 230.2 L1214.5 231.2 L1215.3 232.2 L1216.2 233.2 L1217.1 234.2 L1217.3 234.5 L1217.9 235.2 L1218.8 236.2 L1219.7 237.3 L1220.5 238.3 L1221.4 239.4 L1222.0 240.2 L1223.1 241.5 L1224.0 242.6 L1224.8 243.7 L1225.7 244.9 L1226.5 245.9 L1227.4 247.1 L1228.3 248.3 L1229.1 249.5 L1230.0 250.6 L1230.6 251.5 L1231.7 253.0 L1232.6 254.3 L1233.5 255.5 L1234.3 256.7 L1234.6 257.2 L1235.2 258.0 L1236.0 259.3 L1236.9 260.6 L1237.8 261.9 L1238.4 262.8 L1238.6 263.2 L1239.5 264.6 L1240.4 265.9 L1241.2 267.3 L1241.9 268.4 L1242.9 270.1 L1243.8 271.5 L1244.7 273.0 L1245.3 274.1 L1245.5 274.5 L1246.4 276.0 L1247.3 277.5 L1248.1 279.0 L1248.5 279.7 L1249.0 280.6 L1249.8 282.2 L1250.7 283.8 L1251.5 285.3 L1252.4 287.1 L1253.3 288.8 L1254.2 290.5 L1254.4 290.9 L1255.0 292.2 L1255.9 294.0 L1256.7 295.8 L1257.1 296.5 L1257.6 297.7 L1258.5 299.5 L1259.3 301.4 L1259.6 302.1 L1260.2 303.4 L1261.0 305.3 L1261.9 307.4 L1262.8 309.4 L1263.6 311.5 L1264.3 313.2 L1265.4 315.8 L1266.2 318.1 L1266.5 318.8 L1267.1 320.3 L1267.9 322.7 L1268.6 324.4 L1268.8 325.0 L1269.7 327.5 L1270.5 329.9 L1271.4 332.5 L1272.3 335.2 L1273.1 337.9 L1274.0 340.6 L1274.8 343.5 L1275.7 346.4 L1276.6 349.4 L1277.3 352.1 L1278.3 355.7 L1278.8 357.6 L1279.2 359.0 L1280.0 362.4 L1280.2 363.2 L1280.9 365.9 L1281.5 368.7 L1281.7 369.6 L1282.6 373.3 L1282.8 374.2 L1283.5 377.3 L1284.0 379.7 L1284.3 381.3 L1285.1 385.2 L1286.1 390.0 L1286.2 390.7 L1286.9 394.7 L1287.2 396.2 L1287.8 399.6 L1288.2 401.7 L1288.6 404.7 L1289.1 407.2 L1289.5 410.1 L1289.9 412.7 L1290.4 415.7 L1290.7 418.2 L1291.2 421.8 L1291.5 423.7 L1292.1 428.2 L1292.2 429.2 L1292.9 434.7 L1293.6 440.1 L1293.8 442.3 L1294.2 445.6 L1294.7 450.3 L1294.8 451.1 L1295.3 456.6 L1295.5 458.8 L1295.8 462.0 L1296.3 467.5 L1296.4 468.2 L1296.8 473.0 L1297.3 478.4 L1297.7 483.9 L1298.1 489.4 L1298.1 490.1 L1298.5 494.8 L1298.8 500.3 L1299.0 503.2 L1299.1 505.8 L1299.5 511.2 L1299.8 516.7 L1299.9 518.2 L1300.1 522.1 L1300.3 527.6 L1300.6 533.0 L1300.7 535.9 L1300.8 538.5 L1301.1 543.9 L1301.3 549.4 L1301.5 554.8 L1301.6 557.3 L1301.7 560.3 L1301.9 565.7 L1302.0 571.2 L1302.2 576.6 L1302.4 582.1 L1302.4 584.7 L1302.5 587.5 L1302.7 593.0 L1302.8 598.4 L1302.9 603.9 L1303.0 609.3 L1303.1 614.8 L1303.3 620.2 L1303.3 622.6 L1303.4 625.6 L1303.5 631.1 L1303.5 636.5 L1303.6 642.0 L1303.7 647.4 L1303.8 652.8 L1303.9 658.3 L1303.9 663.7 L1304.0 669.2 L1304.1 674.6 L1304.1 680.0 L1304.2 684.5 L1304.2 685.5 L1304.2 690.9 L1304.3 696.4 L1304.3 701.8 L1304.4 707.2 L1304.4 712.7 L1304.5 718.1 L1304.5 723.6 L1304.5 729.0 L1304.6 734.4 L1304.6 739.9 L1304.6 745.3 L1304.7 750.8 L1304.7 756.2 L1304.7 761.6 L1304.7 767.1 L1304.8 772.5 L1304.8 777.9 L1304.8 783.4 L1304.8 788.8 L1304.8 794.3 L1304.9 799.7 L1304.9 805.1 L1304.9 810.6 L1304.9 816.0 L1304.9 821.4 L1304.9 826.9 L1304.9 832.3 L1304.9 837.7 L1305.0 843.2 L1305.0 848.6 L1305.0 854.1 L1305.0 858.3 L1305.3 854.1 L1305.4 848.6 L1305.4 843.2 L1305.4 837.8 L1305.4 832.3 L1305.4 826.9 L1305.4 821.5 L1305.4 816.0 L1305.4 810.6 L1305.5 805.2 L1305.5 799.7 L1305.5 794.3 L1305.5 788.9 L1305.5 783.4 L1305.6 778.0 L1305.6 772.6 L1305.6 767.1 L1305.6 761.7 L1305.6 756.3 L1305.7 750.8 L1305.7 745.4 L1305.7 740.0 L1305.8 734.5 L1305.8 729.1 L1305.8 723.7 L1305.9 718.2 L1305.9 716.2 L1305.9 712.8 L1306.0 707.4 L1306.0 701.9 L1306.0 696.5 L1306.1 691.1 L1306.2 685.6 L1306.2 680.2 L1306.3 674.8 L1306.3 669.3 L1306.4 663.9 L1306.5 658.5 L1306.5 653.0 L1306.6 647.6 L1306.7 642.2 L1306.8 638.6 L1306.8 636.7 L1306.9 631.3 L1307.0 625.9 L1307.1 620.5 L1307.2 615.0 L1307.3 609.6 L1307.4 604.2 L1307.5 598.7 L1307.6 595.5 L1307.7 593.3 L1307.8 587.9 L1308.0 582.5 L1308.1 577.0 L1308.3 571.6 L1308.5 566.2 L1308.6 560.8 L1308.8 555.4 L1309.0 549.9 L1309.3 544.5 L1309.3 542.7 L1309.5 539.1 L1309.7 533.7 L1310.0 528.3 L1310.2 524.1 L1310.3 522.8 L1310.6 517.4 L1310.9 512.0 L1311.1 508.5 L1311.2 506.6 L1311.5 501.2 L1311.9 495.8 L1311.9 495.0 L1312.3 490.4 L1312.7 485.0 L1312.8 483.1 L1313.1 479.6 L1313.5 474.1 L1313.7 472.6 L1314.0 468.7 L1314.5 463.3 L1315.0 457.9 L1315.4 454.3 L1315.6 452.6 L1316.1 447.2 L1316.2 446.3 L1316.8 441.8 L1317.1 438.9 L1317.4 436.4 L1318.0 432.1 L1318.1 431.0 L1318.8 425.6 L1319.6 420.2 L1319.7 419.6 L1320.4 414.9 L1320.5 414.0 L1321.3 409.5 L1321.4 408.6 L1322.2 404.1 L1322.3 403.5 L1323.1 398.7 L1324.0 394.1 L1324.1 393.4 L1324.9 389.7 L1325.2 388.0 L1325.7 385.5 L1326.3 382.7 L1326.6 381.5 L1327.4 377.7 L1328.3 374.0 L1328.8 372.0 L1329.2 370.4 L1330.0 367.0 L1330.9 363.6 L1331.5 361.3 L1331.8 360.4 L1332.6 357.3 L1333.0 356.0 L1333.5 354.3 L1334.3 351.4 L1334.6 350.7 L1335.2 348.6 L1336.1 345.8 L1336.9 343.2 L1337.8 340.6 L1338.0 340.1 L1338.7 338.0 L1339.5 335.6 L1339.8 334.8 L1340.4 333.2 L1341.2 330.8 L1341.8 329.5 L1342.1 328.6 L1343.0 326.3 L1343.8 324.2 L1344.7 322.0 L1345.6 320.0 L1346.0 319.0 L1346.4 317.9 L1347.3 316.0 L1348.1 314.0 L1349.0 312.1 L1349.9 310.2 L1350.7 308.5 L1351.6 306.6 L1352.5 304.9 L1353.3 303.2 L1354.2 301.4 L1355.0 299.8 L1355.9 298.1 L1356.8 296.5 L1357.6 295.0 L1358.5 293.4 L1358.8 292.8 L1359.4 291.9 L1360.2 290.4 L1361.1 288.9 L1361.8 287.6 L1362.8 286.0 L1363.7 284.6 L1364.5 283.3 L1365.0 282.5 L1365.4 281.9 L1366.3 280.6 L1367.1 279.2 L1368.0 277.9 L1368.4 277.3 L1368.8 276.7 L1369.7 275.4 L1370.6 274.2 L1371.4 272.9 L1372.0 272.2 L1372.3 271.7 L1373.2 270.5 L1374.0 269.3 L1374.9 268.2 L1375.7 267.1 L1376.6 265.9 L1377.5 264.8 L1378.3 263.7 L1379.2 262.6 L1379.7 262.0 L1380.1 261.5 L1380.9 260.5 L1381.8 259.4 L1382.6 258.4 L1383.5 257.4" stroke="#00BEF0" stroke-width="7" fill="none" stroke-linejoin="bevel"/><path d="M348.7 119.8 L351.9 118.5 L355.1 117.1 L358.2 115.8 L361.4 114.5 L364.6 113.2 L367.8 111.9 L371.0 110.7 L374.1 109.5 L377.3 108.3 L380.5 107.1 L383.7 105.9 L386.8 104.7 L390.0 103.6 L393.2 102.5 L396.4 101.4 L399.6 100.3 L402.7 99.2 L405.9 98.2 L409.1 97.2 L412.3 96.1 L415.5 95.1 L418.6 94.2 L421.8 93.2 L425.0 92.3 L428.2 91.3 L431.3 90.4 L434.5 89.5 L437.7 88.6 L440.9 87.8 L444.1 86.9 L447.2 86.1 L450.4 85.2 L453.6 84.4 L456.8 83.6 L460.0 82.9 L463.1 82.1 L466.3 81.3 L469.5 80.6 L472.7 79.9 L475.9 79.2 L479.0 78.5 L482.2 77.8 L485.4 77.1 L488.6 76.4 L491.7 75.8 L494.9 75.2 L498.1 74.5 L501.3 73.9 L504.5 73.3 L507.6 72.8 L510.8 72.2 L514.0 71.6 L517.2 71.1 L520.4 70.5 L523.5 70.0 L526.7 69.5 L529.9 69.0 L533.1 68.5 L536.2 68.0 L539.4 67.5 L542.6 67.0 L545.8 66.6 L549.0 66.1 L552.1 65.7 L555.3 65.2 L558.5 64.8 L561.7 64.4 L564.9 64.0 L568.0 63.6 L571.2 63.2 L574.4 62.8 L577.6 62.5 L580.7 62.1 L583.9 61.7 L587.1 61.4 L590.3 61.0 L593.5 60.7 L596.6 60.4 L599.8 60.1 L603.0 59.7 L606.2 59.4 L609.4 59.1 L612.5 58.8 L615.7 58.5 L618.9 58.2 L622.1 58.0 L625.3 57.7 L628.4 57.4 L631.6 57.1 L634.8 56.9 L638.0 56.6 L641.1 56.4 L644.3 56.1 L647.5 55.9 L650.7 55.6 L653.9 55.4 L657.0 55.2 L660.2 54.9 L663.4 54.7 L666.6 54.5 L669.8 54.3 L672.9 54.0 L676.1 53.8 L679.3 53.6 L682.5 53.4 L685.6 53.2 L688.8 53.0 L692.0 52.8 L695.2 52.6 L698.4 52.4 L701.5 52.2 L704.7 52.0 L707.9 51.8 L711.1 51.6 L714.3 51.4 L717.4 51.2 L720.6 51.1 L723.8 50.9 L727.0 50.7 L730.2 50.5 L733.3 50.4 L736.5 50.2 L739.7 50.0 L742.9 49.9 L746.0 49.7 L749.2 49.6 L752.4 49.4 L755.6 49.2 L758.8 49.1 L761.9 48.9 L765.1 48.8 L768.3 48.7 L771.5 48.5 L774.7 48.4 L777.8 48.2 L781.0 48.1 L784.2 48.0 L787.4 47.8 L790.5 47.7 L793.7 47.6 L796.9 47.5 L800.1 47.3 L803.3 47.2 L806.4 47.1 L809.6 47.0 L812.8 46.9 L816.0 46.8 L819.2 46.6 L822.3 46.5 L825.5 46.4 L828.7 46.3 L831.9 46.2 L835.1 46.1 L838.2 46.0 L841.4 45.9 L844.6 45.8 L847.8 45.7 L850.9 45.7 L854.1 45.6 L857.3 45.5 L860.5 45.4 L863.7 45.3 L866.8 45.2 L870.0 45.1 L873.2 45.1 L876.4 45.0 L879.6 44.9 L882.7 44.8 L885.9 44.8 L889.1 44.7 L892.3 44.6 L895.4 44.6 L898.6 44.5 L901.8 44.4 L905.0 44.4 L908.2 44.3 L911.3 44.2 L914.5 44.2 L917.7 44.1 L920.9 44.1 L924.1 44.0 L927.2 44.0 L930.4 43.9 L933.6 43.9 L936.8 43.8 L940.0 43.8 L943.1 43.7 L946.3 43.7 L949.5 43.6 L952.7 43.6 L955.8 43.6 L959.0 43.5 L962.2 43.5 L965.4 43.4 L968.6 43.4 L971.7 43.4 L974.9 43.3 L978.1 43.3 L981.3 43.3 L984.5 43.3 L987.6 43.2 L990.8 43.2 L994.0 43.2 L997.2 43.1 L1000.3 43.1 L1003.5 43.1 L1006.7 43.1 L1009.9 43.1 L1013.1 43.0 L1016.2 43.0 L1019.4 43.0 L1022.6 43.0 L1025.8 43.0 L1029.0 42.9 L1032.1 42.9 L1035.3 42.9 L1038.5 42.9 L1041.7 42.9 L1044.8 42.9 L1048.0 42.9 L1051.2 42.8 L1054.4 42.8 L1057.6 42.8 L1060.7 42.8 L1063.9 42.8 L1067.1 42.8 L1070.3 42.8 L1073.5 42.8 L1076.6 42.8 L1079.8 42.8 L1083.0 42.8 L1086.2 42.8 L1089.4 42.8 L1092.5 42.8 L1095.7 42.8 L1098.9 42.8 L1102.1 42.8 L1105.2 42.8 L1108.4 42.8 L1111.6 42.8 L1114.8 42.8 L1118.0 42.8 L1121.1 42.8 L1124.3 42.8 L1127.5 42.8 L1130.7 42.8 L1133.9 42.8 L1137.0 42.8 L1140.2 42.8 L1143.4 42.8 L1146.6 42.8 L1149.7 42.8 L1152.9 42.8 L1156.1 42.8 L1159.3 42.8 L1162.5 42.8 L1165.6 42.8 L1168.8 42.8 L1172.0 42.8" stroke="#0088CC" stroke-width="2.1" stroke-opacity="0.9" fill="none"/>
<g font-size="74"><text x="325.8" y="0" text-anchor="end" transform="translate(0,71.4) scale(1,1.05)">0</text><text x="325.8" y="0" text-anchor="end" transform="translate(0,357.7) scale(1,1.05)">-50</text><text x="325.8" y="0" text-anchor="end" transform="translate(0,644.1) scale(1,1.05)">-100</text><text x="325.8" y="0" text-anchor="end" transform="translate(0,930.4) scale(1,1.05)">-150</text><text x="348.5" y="0" text-anchor="middle" transform="translate(0,998.0) scale(1,1.05)">600</text><text x="693.7" y="0" text-anchor="middle" transform="translate(0,998.0) scale(1,1.05)">800</text><text x="1038.8" y="0" text-anchor="middle" transform="translate(0,998.0) scale(1,1.05)">1000</text><text x="1385.5" y="0" text-anchor="middle" transform="translate(0,998.0) scale(1,1.05)">1200</text></g>
<text x="0" y="0" transform="translate(536,1102) scale(1,1.02)" font-size="83" font-weight="bold" textLength="659" lengthAdjust="spacingAndGlyphs">Wavelength (nm)</text>
<text transform="translate(84.5,835.5) rotate(-90) scale(1,1.04)" x="0" y="0" font-size="83" font-weight="bold" textLength="725" lengthAdjust="spacingAndGlyphs">Transmission (DB)</text>
<g class="lg"><rect x="1450.5" y="173.5" width="113" height="6.8" fill="#F9500A"/><text x="1574" y="0" font-size="68" transform="translate(0,212.5) scale(1,1.06)">35</text><text x="0" y="0" font-size="53" transform="translate(1667.0,178.2) scale(1.09,1)">o</text><text x="0" y="0" font-size="68" transform="translate(1696.6,212.5) scale(1.12,1)">c</text><rect x="1450.5" y="277.4" width="113" height="6.8" fill="#FFB000"/><text x="1574" y="0" font-size="68" transform="translate(0,316.4) scale(1,1.06)">30</text><text x="0" y="0" font-size="53" transform="translate(1667.0,282.1) scale(1.09,1)">o</text><text x="0" y="0" font-size="68" transform="translate(1696.6,316.4) scale(1.12,1)">c</text><rect x="1450.5" y="381.3" width="113" height="6.8" fill="#8F2A90"/><text x="1574" y="0" font-size="68" transform="translate(0,420.3) scale(1,1.06)">25</text><text x="0" y="0" font-size="53" transform="translate(1667.0,386.0) scale(1.09,1)">o</text><text x="0" y="0" font-size="68" transform="translate(1696.6,420.3) scale(1.12,1)">c</text><rect x="1450.5" y="485.2" width="113" height="6.8" fill="#57AC17"/><text x="1574" y="0" font-size="68" transform="translate(0,524.2) scale(1,1.06)">20</text><text x="0" y="0" font-size="53" transform="translate(1667.0,489.9) scale(1.09,1)">o</text><text x="0" y="0" font-size="68" transform="translate(1696.6,524.2) scale(1.12,1)">c</text><rect x="1450.5" y="589.1" width="113" height="6.8" fill="#00BEF0"/><text x="1574" y="0" font-size="68" transform="translate(0,628.1) scale(1,1.06)">15</text><text x="0" y="0" font-size="53" transform="translate(1667.0,593.8) scale(1.09,1)">o</text><text x="0" y="0" font-size="68" transform="translate(1696.6,628.1) scale(1.12,1)">c</text></g>
</svg>
</body></html>
